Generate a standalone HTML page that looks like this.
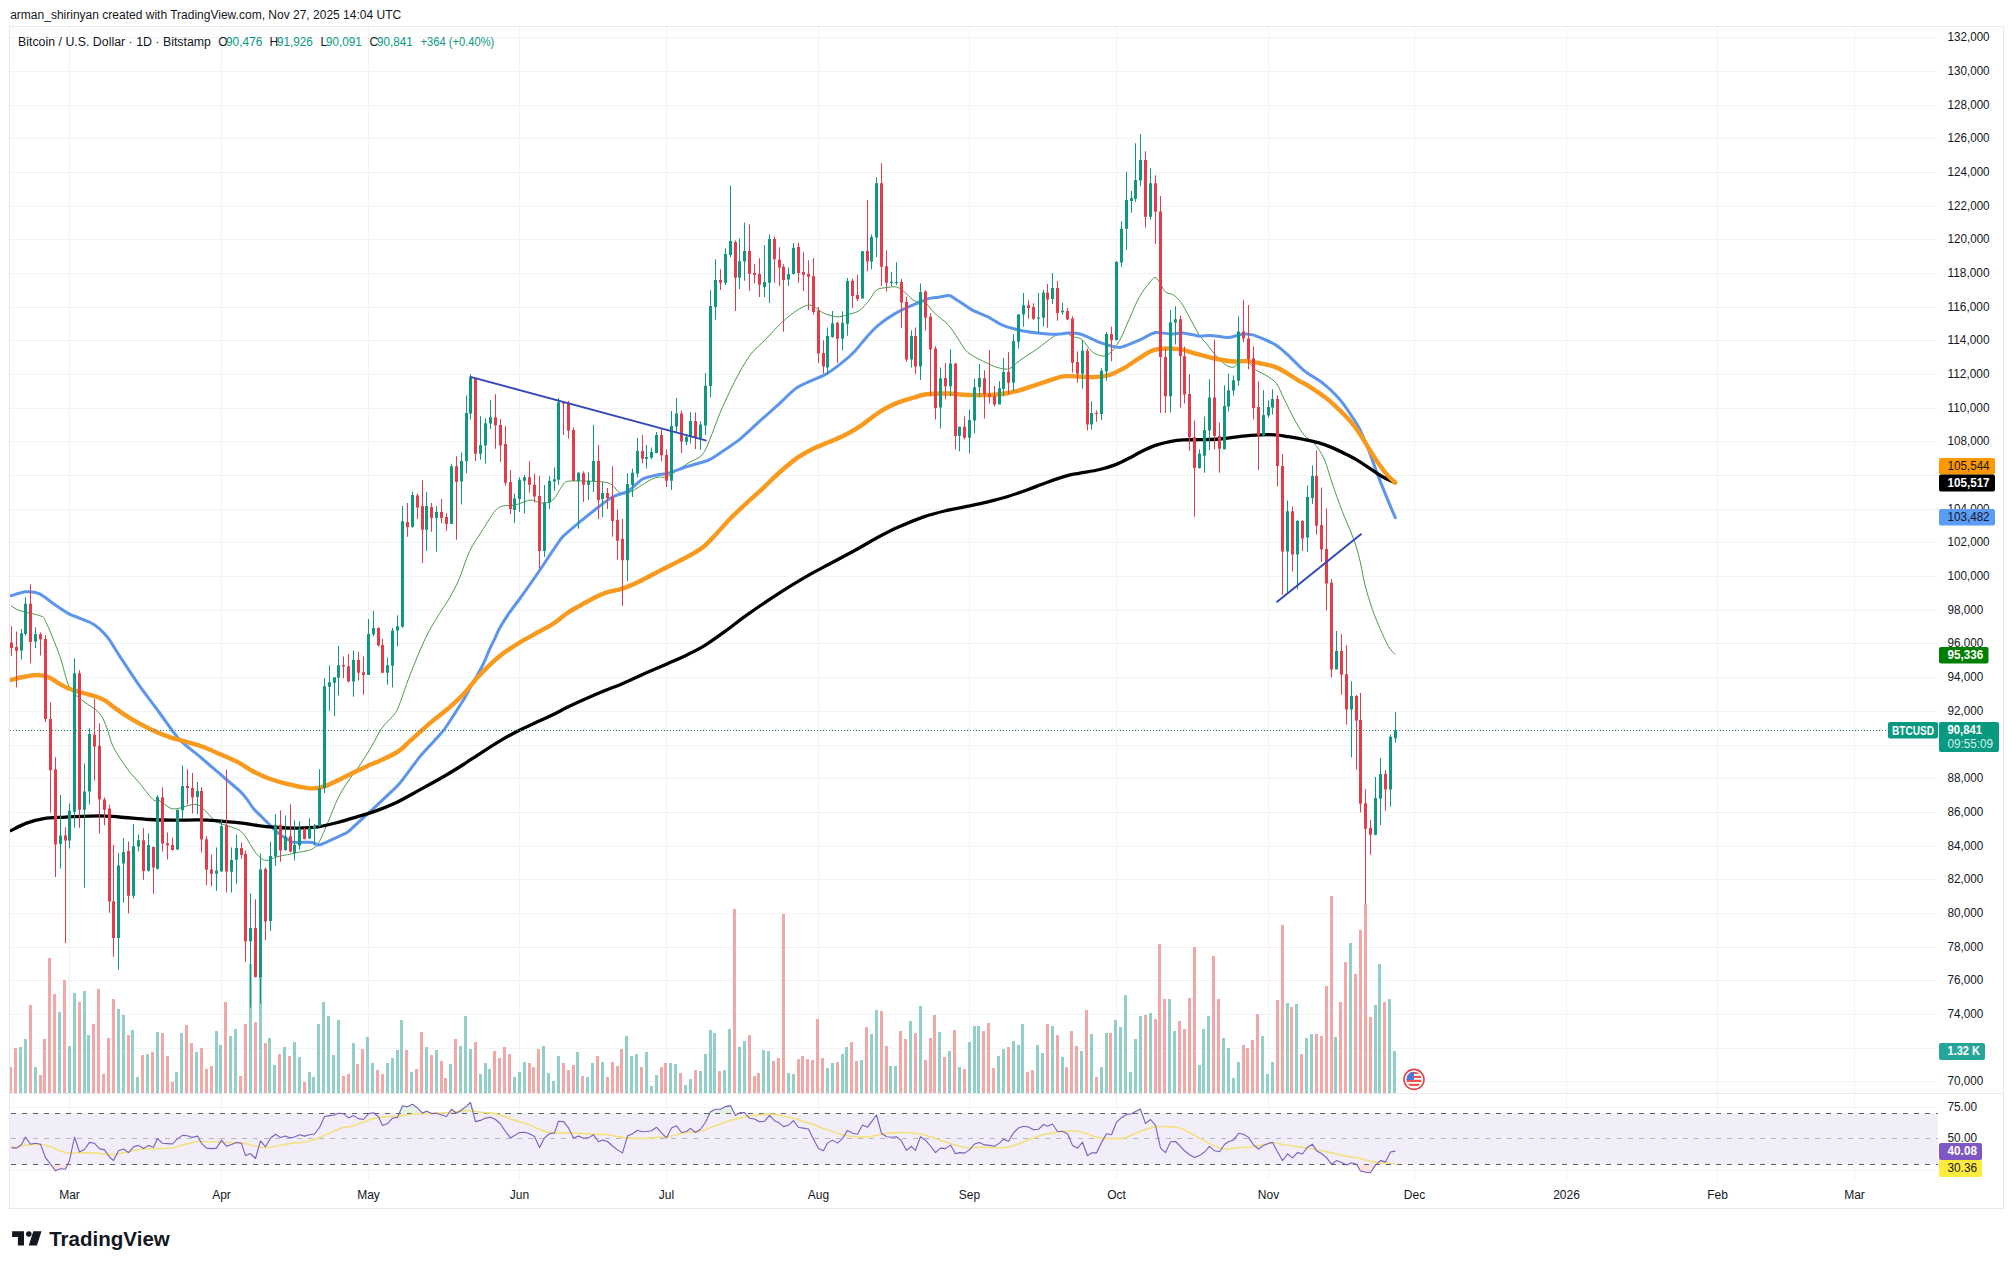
<!DOCTYPE html><html><head><meta charset="utf-8"><title>BTCUSD chart</title><style>html,body{margin:0;padding:0;background:#fff;width:2014px;height:1269px;overflow:hidden}svg{display:block}</style></head><body><svg width="2014" height="1269" viewBox="0 0 2014 1269" font-family='"Liberation Sans", sans-serif' font-size="12">
<rect width="2014" height="1269" fill="#ffffff"/>
<text x="10.2" y="18.6" fill="#131722" font-size="12.3" textLength="391" lengthAdjust="spacingAndGlyphs">arman_shirinyan created with TradingView.com, Nov 27, 2025 14:04 UTC</text>
<path d="M9.5 1081.5H1938 M9.5 1048.5H1938 M9.5 1014.5H1938 M9.5 980.5H1938 M9.5 947.5H1938 M9.5 913.5H1938 M9.5 879.5H1938 M9.5 846.5H1938 M9.5 812.5H1938 M9.5 778.5H1938 M9.5 745.5H1938 M9.5 711.5H1938 M9.5 677.5H1938 M9.5 643.5H1938 M9.5 610.5H1938 M9.5 576.5H1938 M9.5 542.5H1938 M9.5 509.5H1938 M9.5 475.5H1938 M9.5 441.5H1938 M9.5 408.5H1938 M9.5 374.5H1938 M9.5 340.5H1938 M9.5 307.5H1938 M9.5 273.5H1938 M9.5 239.5H1938 M9.5 206.5H1938 M9.5 172.5H1938 M9.5 138.5H1938 M9.5 105.5H1938 M9.5 71.5H1938 M9.5 37.5H1938 M9.5 1107.5H1938 M9.5 1170.5H1938 M69.5 26.5V1179.5 M221.5 26.5V1179.5 M368.5 26.5V1179.5 M519.5 26.5V1179.5 M666.5 26.5V1179.5 M818.5 26.5V1179.5 M969.5 26.5V1179.5 M1116.5 26.5V1179.5 M1268.5 26.5V1179.5 M1414.5 26.5V1179.5 M1566.5 26.5V1179.5 M1717.5 26.5V1179.5 M1854.5 26.5V1179.5" stroke="#f2f3f5" stroke-width="1" fill="none" shape-rendering="crispEdges"/>
<rect x="9.5" y="1113.5" width="1928.5" height="51" fill="#f2eef9"/>
<path d="M19 1047.2h3V1093h-3zM24 1039.1h3V1093h-3zM34 1067.2h3V1093h-3zM58 1012.1h3V1093h-3zM68 1046.0h3V1093h-3zM73 993.0h3V1093h-3zM83 991.1h3V1093h-3zM87 1035.1h3V1093h-3zM117 1009.2h3V1093h-3zM122 1015.1h3V1093h-3zM131 1030.0h3V1093h-3zM136 1077.3h3V1093h-3zM146 1054.0h3V1093h-3zM156 1032.1h3V1093h-3zM175 1072.1h3V1093h-3zM180 1033.2h3V1093h-3zM195 1052.1h3V1093h-3zM215 1031.1h3V1093h-3zM219 1045.1h3V1093h-3zM229 1036.1h3V1093h-3zM234 1029.2h3V1093h-3zM249 964.3h3V1093h-3zM259 975.6h3V1093h-3zM268 1038.2h3V1093h-3zM273 1065.1h3V1093h-3zM283 1047.2h3V1093h-3zM293 1042.2h3V1093h-3zM298 1057.1h3V1093h-3zM308 1072.1h3V1093h-3zM312 1077.3h3V1093h-3zM317 1024.1h3V1093h-3zM322 1002.0h3V1093h-3zM327 1016.1h3V1093h-3zM332 1055.1h3V1093h-3zM337 1020.1h3V1093h-3zM352 1043.1h3V1093h-3zM366 1037.1h3V1093h-3zM371 1063.0h3V1093h-3zM386 1063.0h3V1093h-3zM391 1058.2h3V1093h-3zM396 1050.2h3V1093h-3zM400 1020.1h3V1093h-3zM410 1072.1h3V1093h-3zM425 1047.2h3V1093h-3zM435 1050.2h3V1093h-3zM449 1064.1h3V1093h-3zM459 1046.0h3V1093h-3zM464 1016.1h3V1093h-3zM469 1049.1h3V1093h-3zM479 1074.2h3V1093h-3zM484 1063.0h3V1093h-3zM488 1069.1h3V1093h-3zM513 1077.1h3V1093h-3zM518 1072.1h3V1093h-3zM523 1062.2h3V1093h-3zM542 1046.0h3V1093h-3zM547 1073.1h3V1093h-3zM552 1081.1h3V1093h-3zM557 1056.1h3V1093h-3zM576 1052.1h3V1093h-3zM586 1077.1h3V1093h-3zM591 1063.0h3V1093h-3zM601 1062.2h3V1093h-3zM625 1036.1h3V1093h-3zM630 1056.1h3V1093h-3zM635 1054.0h3V1093h-3zM645 1052.1h3V1093h-3zM650 1086.2h3V1093h-3zM655 1075.0h3V1093h-3zM669 1063.0h3V1093h-3zM674 1064.1h3V1093h-3zM684 1085.1h3V1093h-3zM689 1079.0h3V1093h-3zM699 1071.0h3V1093h-3zM704 1054.0h3V1093h-3zM709 1030.0h3V1093h-3zM713 1033.2h3V1093h-3zM723 1070.0h3V1093h-3zM728 1029.2h3V1093h-3zM738 1047.2h3V1093h-3zM743 1041.1h3V1093h-3zM762 1050.2h3V1093h-3zM767 1051.1h3V1093h-3zM787 1073.1h3V1093h-3zM792 1074.2h3V1093h-3zM826 1068.1h3V1093h-3zM831 1063.0h3V1093h-3zM841 1054.0h3V1093h-3zM845 1047.2h3V1093h-3zM860 1060.1h3V1093h-3zM870 1034.0h3V1093h-3zM875 1010.0h3V1093h-3zM889 1066.2h3V1093h-3zM894 1066.2h3V1093h-3zM909 1021.2h3V1093h-3zM919 1006.0h3V1093h-3zM938 1032.1h3V1093h-3zM948 1051.1h3V1093h-3zM958 1067.0h3V1093h-3zM968 1042.2h3V1093h-3zM973 1026.0h3V1093h-3zM977 1026.0h3V1093h-3zM997 1056.1h3V1093h-3zM1002 1049.1h3V1093h-3zM1012 1041.1h3V1093h-3zM1017 1045.1h3V1093h-3zM1021 1024.1h3V1093h-3zM1036 1044.9h3V1093h-3zM1041 1053.0h3V1093h-3zM1051 1026.2h3V1093h-3zM1061 1057.1h3V1093h-3zM1080 1051.0h3V1093h-3zM1090 1034.1h3V1093h-3zM1100 1066.9h3V1093h-3zM1105 1033.1h3V1093h-3zM1114 1020.1h3V1093h-3zM1119 1027.0h3V1093h-3zM1124 995.0h3V1093h-3zM1129 1072.0h3V1093h-3zM1134 1039.0h3V1093h-3zM1139 1016.0h3V1093h-3zM1149 1013.1h3V1093h-3zM1168 999.1h3V1093h-3zM1173 1031.1h3V1093h-3zM1198 1065.1h3V1093h-3zM1202 1029.0h3V1093h-3zM1207 1016.0h3V1093h-3zM1222 1038.0h3V1093h-3zM1227 1048.0h3V1093h-3zM1232 1077.9h3V1093h-3zM1237 1062.0h3V1093h-3zM1261 1035.9h3V1093h-3zM1266 1074.0h3V1093h-3zM1271 1062.0h3V1093h-3zM1286 1003.2h3V1093h-3zM1295 1004.2h3V1093h-3zM1305 1038.0h3V1093h-3zM1310 1034.1h3V1093h-3zM1334 1037.0h3V1093h-3zM1349 943.1h3V1093h-3zM1374 1005.0h3V1093h-3zM1378 964.1h3V1093h-3zM1388 999.1h3V1093h-3zM1393 1051.0h3V1093h-3z" fill="#93cec9" shape-rendering="crispEdges"/>
<path d="M9 1067.2h3V1093h-3zM14 1048.1h3V1093h-3zM29 1005.2h3V1093h-3zM39 1075.2h3V1093h-3zM43 1039.1h3V1093h-3zM48 957.9h3V1093h-3zM53 994.2h3V1093h-3zM63 980.0h3V1093h-3zM78 1002.0h3V1093h-3zM92 1024.1h3V1093h-3zM97 989.2h3V1093h-3zM102 1074.2h3V1093h-3zM107 1038.2h3V1093h-3zM112 999.1h3V1093h-3zM127 1035.1h3V1093h-3zM141 1055.1h3V1093h-3zM151 1052.1h3V1093h-3zM161 1033.2h3V1093h-3zM166 1056.1h3V1093h-3zM171 1082.2h3V1093h-3zM185 1025.2h3V1093h-3zM190 1043.1h3V1093h-3zM200 1048.1h3V1093h-3zM205 1069.1h3V1093h-3zM210 1066.2h3V1093h-3zM224 1002.0h3V1093h-3zM239 1076.1h3V1093h-3zM244 1024.1h3V1093h-3zM254 1022.0h3V1093h-3zM264 1043.1h3V1093h-3zM278 1054.0h3V1093h-3zM288 1056.1h3V1093h-3zM303 1082.2h3V1093h-3zM342 1076.1h3V1093h-3zM347 1074.2h3V1093h-3zM356 1064.1h3V1093h-3zM361 1049.1h3V1093h-3zM376 1070.0h3V1093h-3zM381 1074.2h3V1093h-3zM405 1050.2h3V1093h-3zM415 1069.1h3V1093h-3zM420 1032.1h3V1093h-3zM430 1055.1h3V1093h-3zM440 1061.1h3V1093h-3zM444 1078.2h3V1093h-3zM454 1039.1h3V1093h-3zM474 1042.2h3V1093h-3zM493 1051.1h3V1093h-3zM498 1058.2h3V1093h-3zM503 1047.2h3V1093h-3zM508 1054.0h3V1093h-3zM528 1063.0h3V1093h-3zM532 1067.0h3V1093h-3zM537 1049.1h3V1093h-3zM562 1063.0h3V1093h-3zM567 1070.0h3V1093h-3zM572 1065.1h3V1093h-3zM581 1076.1h3V1093h-3zM596 1056.1h3V1093h-3zM606 1077.1h3V1093h-3zM611 1062.2h3V1093h-3zM616 1066.2h3V1093h-3zM620 1049.1h3V1093h-3zM640 1067.0h3V1093h-3zM660 1067.0h3V1093h-3zM664 1063.0h3V1093h-3zM679 1073.1h3V1093h-3zM694 1070.0h3V1093h-3zM718 1071.0h3V1093h-3zM733 909.1h3V1093h-3zM748 1035.1h3V1093h-3zM753 1076.1h3V1093h-3zM757 1073.1h3V1093h-3zM772 1061.1h3V1093h-3zM777 1058.2h3V1093h-3zM782 914.0h3V1093h-3zM797 1059.0h3V1093h-3zM801 1056.1h3V1093h-3zM806 1059.0h3V1093h-3zM811 1060.1h3V1093h-3zM816 1019.1h3V1093h-3zM821 1058.2h3V1093h-3zM836 1062.2h3V1093h-3zM850 1042.2h3V1093h-3zM855 1061.1h3V1093h-3zM865 1027.1h3V1093h-3zM880 1011.1h3V1093h-3zM885 1046.0h3V1093h-3zM899 1031.1h3V1093h-3zM904 1039.1h3V1093h-3zM914 1033.2h3V1093h-3zM924 1060.1h3V1093h-3zM929 1038.2h3V1093h-3zM933 1015.1h3V1093h-3zM943 1057.1h3V1093h-3zM953 1030.0h3V1093h-3zM963 1069.1h3V1093h-3zM982 1031.1h3V1093h-3zM987 1023.1h3V1093h-3zM992 1068.1h3V1093h-3zM1007 1047.2h3V1093h-3zM1026 1072.0h3V1093h-3zM1031 1069.9h3V1093h-3zM1046 1024.1h3V1093h-3zM1056 1035.1h3V1093h-3zM1065 1066.9h3V1093h-3zM1070 1031.1h3V1093h-3zM1075 1046.1h3V1093h-3zM1085 1010.1h3V1093h-3zM1095 1076.9h3V1093h-3zM1109 1033.1h3V1093h-3zM1144 1015.2h3V1093h-3zM1154 1019.0h3V1093h-3zM1158 944.1h3V1093h-3zM1163 999.1h3V1093h-3zM1178 1021.1h3V1093h-3zM1183 1029.0h3V1093h-3zM1188 998.1h3V1093h-3zM1193 947.2h3V1093h-3zM1212 956.1h3V1093h-3zM1217 999.1h3V1093h-3zM1242 1045.1h3V1093h-3zM1246 1048.0h3V1093h-3zM1251 1040.0h3V1093h-3zM1256 1014.0h3V1093h-3zM1276 1000.1h3V1093h-3zM1281 925.0h3V1093h-3zM1290 1007.0h3V1093h-3zM1300 1054.1h3V1093h-3zM1315 1034.1h3V1093h-3zM1320 1035.9h3V1093h-3zM1325 986.1h3V1093h-3zM1330 896.1h3V1093h-3zM1339 1002.1h3V1093h-3zM1344 962.0h3V1093h-3zM1354 974.1h3V1093h-3zM1359 930.1h3V1093h-3zM1364 904.0h3V1093h-3zM1369 1017.0h3V1093h-3zM1383 1002.1h3V1093h-3z" fill="#f1a8a7" shape-rendering="crispEdges"/>
<clipPath id="pc"><rect x="10" y="27" width="1928" height="1066"/></clipPath><g clip-path="url(#pc)">
<path d="M10.9 605.7C12.4 606.5 15.1 609.0 19.9 610.7C24.7 612.4 35.4 613.9 39.7 615.7C44.0 617.5 42.4 615.0 45.7 621.6C49.0 628.2 55.6 644.5 59.6 655.4C63.6 666.3 65.5 679.6 69.5 687.2C73.5 694.8 78.4 696.8 83.4 701.1C88.4 705.4 95.3 708.4 99.3 713.0C103.3 717.6 104.9 723.3 107.2 728.9C109.5 734.5 109.9 740.2 113.2 746.8C116.5 753.4 122.8 762.6 127.1 768.6C131.4 774.6 134.7 777.4 139.0 782.5C143.3 787.6 149.6 796.4 152.9 799.4C156.2 802.4 155.9 798.9 158.9 800.4C161.9 801.9 167.5 807.0 170.8 808.3C174.1 809.6 174.4 808.9 178.7 808.3C183.0 807.6 191.9 803.7 196.6 804.4C201.2 805.1 203.3 809.4 206.6 812.3C209.9 815.2 212.9 819.5 216.5 821.8C220.1 824.1 224.1 824.3 228.4 826.1C232.7 827.9 237.7 828.0 242.3 832.6C246.9 837.2 252.2 848.9 256.2 853.5C260.2 858.1 262.5 859.9 266.1 860.4C269.7 860.9 272.7 857.8 278.0 856.5C283.3 855.2 291.6 854.2 297.9 852.5C304.2 850.8 310.8 851.5 315.8 846.5C320.8 841.5 324.1 830.7 327.7 822.8C331.3 814.9 334.3 805.8 337.6 799.0C340.9 792.2 344.3 787.1 347.6 782.0C350.9 776.9 353.5 774.5 357.5 768.6C361.5 762.7 367.4 753.4 371.4 746.8C375.4 740.2 378.2 733.5 381.3 728.9C384.4 724.3 387.1 722.7 389.9 719.2C392.7 715.8 394.6 715.5 397.9 708.2C401.2 700.9 405.2 687.2 409.8 675.5C414.4 663.8 420.7 648.1 425.7 637.7C430.7 627.4 435.6 620.0 439.6 613.4C443.6 606.8 446.2 603.8 449.5 598.0C452.8 592.2 456.1 586.2 459.4 578.5C462.7 570.8 465.4 560.0 469.4 551.7C473.4 543.4 479.0 535.6 483.3 528.8C487.6 522.0 491.9 514.7 495.2 510.9C498.5 507.1 499.8 507.0 503.1 506.0C506.4 505.0 510.5 506.0 515.1 505.0C519.7 504.0 526.6 500.3 530.9 500.0C535.2 499.7 537.2 503.0 540.9 503.0C544.5 503.0 549.2 503.0 552.8 500.0C556.4 497.0 560.1 488.2 562.7 485.1C565.4 482.0 564.4 481.9 568.7 481.2C573.0 480.5 582.5 481.0 588.5 481.2C594.5 481.4 600.4 481.5 604.4 482.1C608.4 482.8 609.8 483.3 612.4 485.1C615.0 486.9 617.3 491.9 620.3 493.1C623.3 494.3 625.7 494.1 630.3 492.1C634.9 490.1 643.5 483.7 648.1 481.2C652.7 478.7 654.8 478.0 658.1 477.2C661.4 476.4 663.0 478.5 668.0 476.2C673.0 473.9 682.2 466.8 687.9 463.3C693.5 459.8 698.2 459.0 701.9 455.0C705.6 451.0 706.9 446.2 709.9 439.3C712.9 432.4 716.5 421.4 719.8 413.5C723.1 405.6 726.4 398.5 729.7 391.6C733.0 384.7 736.1 378.4 739.7 372.0C743.4 365.6 747.3 358.6 751.6 353.2C755.9 347.8 760.9 344.2 765.5 339.5C770.1 334.8 774.8 329.2 779.4 324.8C784.0 320.4 789.0 316.0 793.3 312.9C797.6 309.8 801.9 307.1 805.2 305.9C808.5 304.7 810.1 304.7 813.1 305.9C816.1 307.1 819.1 311.1 823.1 312.9C827.1 314.7 833.0 316.5 837.0 316.8C841.0 317.1 843.3 315.8 846.9 314.8C850.5 313.8 855.2 313.2 858.8 310.9C862.4 308.6 865.7 304.4 868.7 300.9C871.7 297.4 873.7 292.2 876.7 290.0C879.7 287.8 883.3 288.1 886.6 287.6C889.9 287.1 893.6 286.3 896.6 287.0C899.6 287.7 901.5 289.7 904.5 292.0C907.5 294.3 911.1 299.2 914.4 300.9C917.7 302.5 921.1 299.9 924.4 301.9C927.7 303.9 930.3 309.1 934.3 312.9C938.3 316.7 944.2 320.5 948.2 324.8C952.2 329.1 954.8 334.1 958.1 338.7C961.4 343.3 963.0 348.5 968.0 352.6C973.0 356.7 982.6 360.9 987.9 363.5C993.2 366.1 996.1 367.3 999.8 368.1C1003.4 368.9 1006.5 369.8 1009.8 368.5C1013.1 367.2 1015.1 363.8 1019.7 360.5C1024.3 357.2 1032.0 352.6 1037.6 348.6C1043.2 344.6 1048.9 339.4 1053.5 336.7C1058.1 334.0 1062.3 332.7 1065.4 332.7C1068.5 332.7 1069.2 335.4 1071.9 336.5C1074.6 337.6 1078.5 337.0 1081.8 339.5C1085.1 342.0 1088.5 348.7 1091.8 351.4C1095.1 354.1 1098.7 355.6 1101.7 355.9C1104.7 356.2 1106.7 356.0 1109.7 353.4C1112.7 350.8 1116.3 346.3 1119.6 340.5C1122.9 334.7 1126.2 325.9 1129.5 318.6C1132.8 311.3 1136.1 302.8 1139.4 296.8C1142.7 290.9 1146.8 286.1 1149.4 282.9C1152.0 279.7 1153.2 277.7 1154.9 277.5C1156.6 277.3 1157.6 279.5 1159.3 281.9C1161.0 284.3 1163.0 289.6 1165.3 291.8C1167.6 294.0 1170.5 293.0 1173.2 294.8C1175.9 296.6 1178.6 299.1 1181.2 302.7C1183.8 306.3 1186.1 311.3 1189.1 316.6C1192.1 321.9 1196.0 329.9 1199.0 334.5C1202.0 339.1 1204.3 341.1 1207.0 344.4C1209.7 347.7 1211.9 351.1 1214.9 354.4C1217.9 357.7 1221.8 362.1 1224.8 364.3C1227.8 366.5 1230.5 367.5 1232.8 367.3C1235.1 367.1 1236.4 364.3 1238.7 363.3C1241.0 362.3 1243.9 360.2 1246.7 361.3C1249.5 362.4 1252.3 367.4 1255.6 369.8C1258.9 372.2 1263.1 373.4 1266.6 375.7C1270.1 378.0 1273.5 379.7 1276.5 383.7C1279.5 387.7 1281.4 393.7 1284.4 399.6C1287.4 405.6 1291.1 413.4 1294.4 419.4C1297.7 425.3 1301.0 431.3 1304.3 435.3C1307.6 439.3 1310.9 439.3 1314.2 443.3C1317.5 447.3 1321.2 452.6 1324.2 459.2C1327.2 465.8 1329.1 474.4 1332.1 483.0C1335.1 491.6 1339.0 503.0 1342.0 510.8C1345.0 518.6 1347.7 524.0 1350.0 529.9C1352.3 535.8 1354.2 540.5 1356.0 546.0C1357.8 551.5 1359.0 556.5 1360.5 563.0C1362.0 569.5 1363.0 577.2 1365.0 585.0C1367.0 592.8 1369.9 602.3 1372.5 609.7C1375.1 617.1 1377.8 623.4 1380.5 629.5C1383.2 635.6 1385.9 642.2 1388.4 646.4C1390.9 650.6 1394.2 653.3 1395.4 654.7" stroke="#4c9a4c" stroke-width="1" fill="none"/>
<path d="M10.9 595.8C12.6 595.3 22.4 592.0 25.8 591.8C29.2 591.6 36.5 592.4 39.7 593.8C42.9 595.2 50.1 601.4 53.6 603.8C57.1 606.2 65.3 612.0 69.5 614.1C73.7 616.2 85.9 620.3 89.4 622.0C92.9 623.7 97.0 626.6 99.3 628.6C101.6 630.6 106.9 636.4 109.2 639.5C111.5 642.6 115.7 650.1 119.2 655.4C122.7 660.7 134.4 678.6 139.0 685.2C143.6 691.8 154.3 705.7 158.9 712.0C163.5 718.3 174.1 733.7 178.7 738.8C183.3 743.9 194.0 751.8 198.6 755.7C203.2 759.6 215.2 769.8 218.5 772.6C221.8 775.4 224.3 777.9 226.8 780.0C229.3 782.1 237.4 788.7 239.7 790.9C242.0 793.1 245.1 796.8 246.7 798.9C248.3 801.0 251.9 806.7 253.6 808.8C255.3 810.9 259.7 814.8 261.6 816.7C263.5 818.6 268.1 823.3 269.5 824.7C270.9 826.1 272.3 827.6 273.5 828.7C274.7 829.8 277.9 832.9 279.4 834.1C280.9 835.3 284.9 837.7 286.4 838.6C287.9 839.5 290.8 841.7 292.4 842.1C294.0 842.5 298.0 842.4 300.3 842.4C302.6 842.4 310.1 842.1 312.2 842.4C314.3 842.7 316.9 844.9 318.2 845.0C319.5 845.1 321.2 844.3 323.1 843.6C325.0 842.9 331.3 839.9 334.1 838.6C336.9 837.3 344.6 834.1 347.0 832.6C349.4 831.1 352.4 828.0 354.9 825.7C357.4 823.4 365.4 815.9 368.8 812.8C372.2 809.7 380.1 802.4 383.7 798.9C387.3 795.4 395.8 787.9 400.0 783.0C404.2 778.1 415.1 762.5 419.7 756.9C424.3 751.3 436.5 738.7 439.6 735.1C442.8 731.5 444.8 728.7 446.7 726.0C448.6 723.3 453.5 715.4 455.6 712.2C457.7 709.0 462.6 701.4 464.5 698.3C466.4 695.2 469.8 688.5 471.5 685.4C473.2 682.3 477.9 674.3 479.4 671.5C480.9 668.7 483.2 664.1 484.4 661.6C485.6 659.1 488.2 652.3 489.4 649.7C490.6 647.1 493.1 642.1 494.3 639.7C495.5 637.3 497.6 631.9 499.3 628.8C501.0 625.7 506.9 616.3 509.2 612.9C511.5 609.5 515.7 604.3 519.2 599.5C522.7 594.7 535.0 577.2 538.9 571.5C542.8 565.8 550.0 554.7 552.8 550.7C555.6 546.7 559.7 540.0 562.7 536.8C565.7 533.6 574.4 526.4 578.6 522.9C582.8 519.4 594.6 510.0 598.5 507.0C602.4 504.0 608.9 498.9 612.4 497.0C615.9 495.1 624.8 493.2 628.3 491.1C631.8 489.0 638.7 481.1 642.2 479.2C645.7 477.3 655.1 475.5 658.1 474.8C661.1 474.1 664.5 474.2 668.0 473.2C671.5 472.2 683.3 467.8 687.9 466.3C692.5 464.8 704.0 462.0 707.7 460.5C711.4 459.0 716.1 455.7 719.8 453.2C723.5 450.7 735.1 443.0 739.7 439.3C744.3 435.6 754.9 425.6 759.5 421.4C764.1 417.2 775.0 407.6 779.4 403.6C783.8 399.6 791.9 390.9 797.2 387.5C802.5 384.1 820.0 377.4 825.1 374.6C830.2 371.8 837.4 366.3 840.9 363.6C844.4 360.9 851.6 354.6 854.8 351.2C858.0 347.8 865.9 337.8 868.7 334.7C871.5 331.6 875.7 327.2 878.7 324.8C881.7 322.4 891.1 316.0 894.6 313.9C898.1 311.8 905.7 308.2 908.5 306.9C911.3 305.6 916.1 303.9 918.4 302.9C920.7 301.9 925.8 299.3 928.3 298.6C930.8 297.9 937.8 297.4 940.2 297.0C942.6 296.6 947.3 295.3 949.2 295.6C951.1 295.9 953.4 297.7 956.1 299.4C958.8 301.1 968.3 307.9 972.0 309.9C975.7 311.9 984.4 315.1 987.9 316.8C991.4 318.5 998.3 323.3 1001.8 324.8C1005.3 326.3 1013.5 328.7 1017.7 329.7C1021.9 330.7 1033.7 332.6 1037.6 333.1C1041.5 333.6 1048.9 334.2 1051.5 334.3C1054.1 334.4 1058.1 334.2 1060.0 334.1C1061.9 334.0 1065.4 333.1 1067.9 333.1C1070.4 333.1 1078.1 333.4 1081.8 334.5C1085.5 335.6 1095.3 340.9 1099.7 342.4C1104.1 343.9 1115.0 347.7 1119.6 347.4C1124.2 347.1 1135.2 341.8 1139.4 340.1C1143.6 338.4 1151.6 333.2 1155.3 332.5C1159.0 331.8 1168.0 334.1 1171.2 334.1C1174.4 334.1 1179.9 332.7 1183.1 332.9C1186.3 333.1 1195.8 335.8 1199.0 336.1C1202.2 336.4 1207.4 335.3 1210.9 335.5C1214.4 335.7 1225.1 337.7 1228.8 337.5C1232.5 337.3 1239.9 334.4 1242.7 334.1C1245.5 333.8 1250.1 334.3 1252.7 334.9C1255.3 335.5 1261.8 338.3 1264.6 339.5C1267.4 340.7 1273.7 343.5 1276.5 345.4C1279.3 347.3 1285.2 352.4 1288.4 355.4C1291.6 358.4 1300.4 367.6 1304.3 370.8C1308.2 374.0 1318.3 379.6 1322.2 382.7C1326.1 385.8 1334.9 394.0 1338.1 397.6C1341.3 401.2 1347.5 409.8 1350.0 413.5C1352.5 417.2 1357.6 424.8 1359.9 429.4C1362.2 434.0 1367.7 447.9 1369.8 453.2C1371.9 458.5 1375.9 470.2 1377.8 475.1C1379.7 480.0 1383.7 489.9 1385.7 494.9C1387.7 499.9 1394.2 515.1 1395.3 517.8" stroke="#5c95ea" stroke-width="3" fill="none" stroke-linecap="round" stroke-linejoin="round"/>
<path d="M10.9 830.6C13.4 829.4 20.3 825.5 25.8 823.4C31.3 821.4 37.1 819.6 43.7 818.6C50.3 817.5 56.2 817.6 65.5 817.1C74.8 816.7 90.3 815.8 99.3 815.8C108.2 815.8 110.9 816.4 119.2 817.0C127.5 817.6 140.1 818.9 149.0 819.5C157.9 820.0 164.5 820.2 172.8 820.2C181.1 820.3 191.0 819.8 198.6 819.9C206.2 819.9 211.2 820.2 218.5 820.8C225.8 821.3 235.7 822.4 242.3 823.2C248.9 824.0 252.2 824.9 258.2 825.6C264.1 826.3 271.4 827.1 278.0 827.5C284.6 827.9 291.3 828.2 297.9 828.1C304.5 827.9 311.2 827.7 317.8 826.8C324.4 825.9 331.0 824.2 337.6 822.5C344.2 820.8 350.9 818.7 357.5 816.7C364.1 814.7 371.0 812.8 377.4 810.4C383.8 808.1 388.8 806.2 395.9 802.8C402.9 799.4 411.4 794.5 419.7 789.9C428.0 785.4 438.2 779.7 445.5 775.5C452.8 771.2 459.1 767.3 463.4 764.5C467.7 761.8 465.4 763.0 471.4 759.1C477.4 755.3 491.3 746.2 499.2 741.4C507.1 736.7 513.0 733.5 519.0 730.5C525.0 727.4 529.3 725.7 534.9 723.1C540.5 720.5 547.5 717.4 552.8 714.8C558.1 712.2 561.4 710.2 566.7 707.6C572.0 705.0 578.3 702.1 584.6 699.3C590.9 696.5 598.1 693.4 604.4 690.8C610.7 688.2 615.0 686.8 622.3 683.7C629.6 680.6 640.5 675.4 648.1 672.0C655.7 668.6 661.4 666.3 668.0 663.4C674.6 660.5 681.6 657.5 687.9 654.4C694.2 651.3 699.1 649.0 705.7 644.8C712.3 640.7 720.7 634.5 727.6 629.5C734.5 624.4 738.6 620.8 747.4 614.6C756.2 608.4 770.1 598.9 780.4 592.3C790.7 585.7 801.1 579.6 809.2 574.9C817.3 570.2 820.7 568.7 829.0 564.3C837.3 559.8 850.8 552.5 858.8 548.2C866.8 543.8 870.1 541.5 876.7 538.0C883.3 534.5 890.5 530.6 898.5 527.1C906.5 523.5 916.1 519.5 924.4 516.6C932.7 513.8 940.9 511.9 948.2 510.1C955.5 508.4 961.4 507.6 968.0 506.2C974.6 504.8 981.3 503.4 987.9 501.8C994.5 500.2 1001.2 498.5 1007.8 496.5C1014.4 494.5 1021.0 492.1 1027.6 489.7C1034.2 487.3 1040.9 484.5 1047.5 482.2C1054.1 479.9 1062.0 477.2 1067.4 475.7C1072.8 474.2 1074.5 474.2 1079.9 473.1C1085.3 472.1 1093.8 471.0 1099.7 469.5C1105.7 468.1 1110.6 466.5 1115.6 464.6C1120.6 462.6 1124.9 460.3 1129.5 458.0C1134.1 455.6 1139.1 452.6 1143.4 450.5C1147.7 448.4 1150.7 446.9 1155.3 445.4C1159.9 443.9 1166.6 442.3 1171.2 441.4C1175.8 440.5 1178.5 440.2 1183.1 439.9C1187.7 439.6 1193.0 439.8 1199.0 439.7C1205.0 439.5 1212.9 439.4 1218.9 439.0C1224.9 438.6 1229.5 437.8 1234.8 437.2C1240.1 436.6 1244.1 435.7 1250.7 435.3C1257.3 434.9 1268.2 434.6 1274.5 434.8C1280.8 435.0 1283.4 435.9 1288.4 436.7C1293.4 437.5 1299.3 438.5 1304.3 439.5C1309.3 440.5 1313.6 441.3 1318.2 442.7C1322.8 444.0 1327.5 445.7 1332.1 447.6C1336.7 449.5 1341.7 452.0 1346.0 454.2C1350.3 456.4 1353.9 458.2 1357.9 460.6C1361.9 462.9 1365.8 465.7 1369.8 468.3C1373.8 470.9 1377.5 473.8 1381.7 476.2C1385.9 478.6 1392.5 481.5 1394.7 482.6" stroke="#000000" stroke-width="3.3" fill="none" stroke-linecap="round" stroke-linejoin="round"/>
<path d="M10.9 679.8C13.4 679.2 21.0 677.3 25.8 676.5C30.6 675.7 35.7 674.8 39.7 675.1C43.7 675.3 46.4 676.3 49.7 677.8C53.0 679.3 56.3 682.1 59.6 683.9C62.9 685.7 65.5 687.3 69.5 688.8C73.5 690.3 79.1 691.8 83.4 693.0C87.7 694.3 91.7 695.1 95.3 696.3C98.9 697.6 102.3 699.0 105.3 700.7C108.3 702.5 109.2 703.9 113.2 706.7C117.2 709.5 123.1 714.0 129.1 717.6C135.1 721.3 142.4 725.3 149.0 728.5C155.6 731.8 162.2 734.5 168.8 736.9C175.4 739.2 183.1 740.8 188.7 742.5C194.3 744.1 197.6 744.9 202.6 746.8C207.6 748.6 212.6 750.9 218.5 753.6C224.4 756.2 232.4 759.4 238.3 762.4C244.2 765.5 249.2 769.4 254.2 772.0C259.2 774.6 262.5 776.2 268.1 778.2C273.7 780.2 281.4 782.6 288.0 784.2C294.6 785.9 302.8 787.5 307.8 788.1C312.8 788.7 314.5 788.5 317.8 788.0C321.1 787.6 322.7 787.2 327.7 785.1C332.7 783.0 341.0 778.8 347.6 775.6C354.2 772.4 362.0 768.4 367.4 765.9C372.8 763.4 374.9 763.1 380.0 760.7C385.1 758.4 392.9 755.0 397.9 751.7C402.9 748.5 404.5 745.9 409.8 741.2C415.1 736.5 423.4 728.8 429.7 723.4C436.0 718.1 441.9 713.8 447.5 709.0C453.1 704.1 458.1 699.9 463.4 694.3C468.7 688.7 473.3 681.7 479.3 675.5C485.3 669.2 492.6 661.9 499.2 656.5C505.8 651.1 513.0 646.7 519.0 642.9C525.0 639.2 529.3 637.1 534.9 633.9C540.5 630.8 547.5 627.4 552.8 624.0C558.1 620.6 562.4 616.4 566.7 613.5C571.0 610.5 573.3 609.3 578.6 606.3C583.9 603.3 593.5 598.1 598.5 595.7C603.5 593.3 604.4 593.0 608.4 591.9C612.4 590.7 617.3 590.4 622.3 588.7C627.3 587.1 632.2 585.0 638.2 582.1C644.2 579.3 651.5 575.1 658.1 571.6C664.7 568.2 672.6 564.3 677.9 561.6C683.2 558.9 685.7 557.9 690.0 555.4C694.3 552.8 699.6 550.0 703.9 546.5C708.2 543.0 711.5 539.0 715.8 534.5C720.1 529.9 724.7 524.2 729.7 519.2C734.7 514.1 740.3 509.0 745.6 504.0C750.9 499.1 755.9 494.9 761.5 489.7C767.1 484.4 773.4 477.8 779.4 472.5C785.4 467.2 791.6 461.9 797.2 457.9C802.8 453.9 807.8 451.3 813.1 448.7C818.4 446.0 823.7 444.4 829.0 442.1C834.3 439.9 839.6 437.7 844.9 435.0C850.2 432.3 855.5 429.3 860.8 425.8C866.1 422.3 872.1 417.1 876.7 414.0C881.3 410.8 884.6 408.8 888.6 406.8C892.6 404.7 896.2 403.1 900.5 401.6C904.8 400.0 910.1 398.7 914.4 397.5C918.7 396.2 920.7 395.0 926.3 394.3C931.9 393.7 941.2 393.4 948.2 393.5C955.2 393.6 959.7 394.8 968.0 395.0C976.3 395.2 989.5 395.2 997.8 394.5C1006.1 393.8 1011.1 392.5 1017.7 390.8C1024.3 389.1 1031.0 386.6 1037.6 384.4C1044.2 382.3 1052.4 379.2 1057.4 377.8C1062.4 376.4 1061.3 376.2 1067.4 376.1C1073.5 376.0 1086.8 377.3 1093.8 377.1C1100.8 376.9 1104.4 376.4 1109.7 374.8C1115.0 373.2 1120.5 370.1 1125.5 367.3C1130.5 364.5 1134.4 361.0 1139.4 358.1C1144.4 355.1 1148.7 351.1 1155.3 349.6C1161.9 348.1 1172.6 348.5 1179.2 349.1C1185.8 349.8 1189.8 352.1 1195.1 353.5C1200.4 354.9 1205.0 356.3 1210.9 357.6C1216.9 358.9 1224.8 360.7 1230.8 361.3C1236.8 361.9 1242.1 360.9 1246.7 361.1C1251.3 361.4 1254.0 362.0 1258.6 363.0C1263.2 363.9 1269.9 365.1 1274.5 366.7C1279.1 368.4 1282.4 370.5 1286.4 372.8C1290.4 375.0 1294.3 378.0 1298.3 380.4C1302.3 382.8 1305.7 384.1 1310.3 387.1C1314.9 390.0 1321.5 394.5 1326.1 398.0C1330.7 401.6 1334.1 404.9 1338.1 408.7C1342.1 412.5 1346.4 416.7 1350.0 420.9C1353.6 425.1 1356.9 429.5 1359.9 433.9C1362.9 438.2 1364.9 442.2 1367.9 447.0C1370.9 451.8 1374.5 457.9 1377.8 462.6C1381.1 467.4 1384.8 472.1 1387.7 475.4C1390.6 478.8 1394.0 481.4 1395.3 482.6" stroke="#f79a1e" stroke-width="4.4" fill="none" stroke-linecap="round" stroke-linejoin="round"/>
</g>
<path d="M21 629.0h1V659.4h-1zM25 597.2h1V635.5h-1zM35 627.2h1V647.9h-1zM60 794.9h1V868.4h-1zM69 803.4h1V848.5h-1zM74 658.4h1V827.7h-1zM84 763.6h1V887.8h-1zM89 728.3h1V804.4h-1zM118 853.1h1V969.7h-1zM123 838.2h1V902.7h-1zM133 824.1h1V898.8h-1zM138 834.6h1V851.5h-1zM148 833.2h1V871.4h-1zM157 794.9h1V869.8h-1zM177 809.4h1V849.9h-1zM182 765.6h1V818.7h-1zM197 782.1h1V814.2h-1zM216 847.5h1V890.8h-1zM221 819.7h1V871.8h-1zM231 847.5h1V892.6h-1zM236 834.6h1V884.3h-1zM250 893.2h1V1007.4h-1zM260 853.5h1V1003.4h-1zM270 841.6h1V930.9h-1zM275 814.2h1V865.8h-1zM285 815.4h1V851.1h-1zM294 820.3h1V860.4h-1zM299 821.3h1V849.5h-1zM309 818.3h1V839.2h-1zM314 824.1h1V845.5h-1zM319 769.2h1V826.7h-1zM324 678.2h1V792.9h-1zM329 665.3h1V711.0h-1zM334 677.2h1V716.0h-1zM338 646.1h1V695.5h-1zM353 650.4h1V696.7h-1zM368 619.1h1V674.9h-1zM373 611.1h1V636.5h-1zM387 657.4h1V684.8h-1zM392 628.0h1V687.6h-1zM397 615.3h1V646.5h-1zM402 506.0h1V627.8h-1zM412 491.7h1V527.8h-1zM426 492.1h1V551.1h-1zM436 506.0h1V551.7h-1zM451 463.7h1V523.9h-1zM461 452.4h1V504.6h-1zM466 395.4h1V473.2h-1zM470 374.3h1V419.6h-1zM480 416.2h1V459.7h-1zM485 418.2h1V463.7h-1zM490 400.1h1V429.1h-1zM514 493.5h1V522.9h-1zM519 477.2h1V511.9h-1zM524 474.8h1V513.3h-1zM544 485.1h1V557.0h-1zM549 476.2h1V509.0h-1zM554 467.2h1V490.7h-1zM558 398.1h1V484.7h-1zM578 472.2h1V528.8h-1zM588 472.2h1V500.0h-1zM593 425.1h1V492.1h-1zM602 482.1h1V516.9h-1zM627 473.2h1V580.9h-1zM632 468.8h1V497.0h-1zM637 438.1h1V477.2h-1zM646 445.0h1V468.6h-1zM651 447.4h1V459.3h-1zM656 431.9h1V453.3h-1zM671 411.0h1V490.1h-1zM676 398.1h1V431.9h-1zM686 434.5h1V445.0h-1zM690 412.0h1V443.4h-1zM700 421.2h1V449.8h-1zM705 372.9h1V435.1h-1zM710 290.0h1V397.3h-1zM715 259.2h1V319.8h-1zM725 248.3h1V285.1h-1zM730 185.4h1V257.2h-1zM739 238.4h1V289.0h-1zM744 222.5h1V280.7h-1zM764 245.3h1V297.0h-1zM769 234.4h1V302.9h-1zM788 267.6h1V286.0h-1zM793 242.9h1V274.7h-1zM827 327.4h1V374.4h-1zM832 310.9h1V337.7h-1zM842 311.3h1V350.6h-1zM847 278.1h1V335.7h-1zM862 250.9h1V298.6h-1zM871 234.4h1V269.2h-1zM876 177.2h1V256.9h-1zM891 272.1h1V286.0h-1zM896 262.2h1V285.1h-1zM911 330.3h1V367.5h-1zM920 283.5h1V380.0h-1zM940 367.4h1V428.4h-1zM950 349.2h1V396.3h-1zM959 426.4h1V451.6h-1zM969 409.5h1V453.6h-1zM974 378.7h1V433.3h-1zM979 364.1h1V397.3h-1zM999 381.3h1V404.5h-1zM1003 358.1h1V396.3h-1zM1013 334.3h1V391.3h-1zM1018 313.9h1V348.6h-1zM1023 293.0h1V326.8h-1zM1038 293.0h1V332.7h-1zM1043 290.0h1V326.4h-1zM1052 273.1h1V303.9h-1zM1062 302.7h1V314.6h-1zM1082 340.1h1V388.7h-1zM1091 401.2h1V429.8h-1zM1101 368.2h1V420.0h-1zM1106 332.1h1V380.7h-1zM1116 261.0h1V340.5h-1zM1121 221.3h1V267.0h-1zM1126 172.0h1V250.1h-1zM1131 191.1h1V212.8h-1zM1135 143.2h1V201.8h-1zM1140 134.3h1V185.9h-1zM1150 168.1h1V219.7h-1zM1170 309.7h1V412.5h-1zM1175 306.3h1V344.4h-1zM1199 449.2h1V468.7h-1zM1204 416.5h1V472.7h-1zM1209 379.3h1V450.2h-1zM1224 385.3h1V449.6h-1zM1228 373.4h1V411.5h-1zM1233 375.4h1V395.6h-1zM1238 316.2h1V385.7h-1zM1263 390.2h1V436.3h-1zM1268 400.6h1V417.5h-1zM1272 389.3h1V414.5h-1zM1287 500.5h1V592.8h-1zM1297 519.7h1V589.3h-1zM1307 485.4h1V552.1h-1zM1312 465.5h1V503.9h-1zM1336 631.1h1V669.6h-1zM1351 681.2h1V757.6h-1zM1375 777.1h1V835.2h-1zM1380 758.0h1V825.0h-1zM1390 734.4h1V806.7h-1zM1395 711.9h1V742.7h-1zM20 633.2h3V650.4h-3zM24 603.8h3V634.0h-3zM34 634.0h3V641.5h-3zM59 835.6h3V844.0h-3zM68 810.8h3V840.6h-3zM73 673.3h3V811.8h-3zM83 791.4h3V809.8h-3zM88 733.9h3V791.4h-3zM117 865.4h3V937.9h-3zM122 852.1h3V863.4h-3zM132 846.1h3V895.8h-3zM137 840.2h3V846.5h-3zM147 845.1h3V870.8h-3zM156 796.9h3V868.8h-3zM176 809.8h3V849.5h-3zM181 786.0h3V810.2h-3zM196 790.9h3V796.9h-3zM215 870.4h3V873.7h-3zM220 826.1h3V871.4h-3zM230 860.0h3V871.8h-3zM235 848.1h3V859.8h-3zM249 928.0h3V941.3h-3zM259 869.4h3V977.0h-3zM269 856.1h3V921.0h-3zM274 824.7h3V856.5h-3zM284 836.6h3V849.9h-3zM293 845.1h3V853.1h-3zM298 828.7h3V845.5h-3zM308 828.3h3V838.6h-3zM313 825.7h3V828.7h-3zM318 788.1h3V826.1h-3zM323 686.2h3V787.9h-3zM328 682.2h3V686.8h-3zM333 677.2h3V682.8h-3zM337 665.3h3V677.8h-3zM352 660.0h3V681.6h-3zM367 634.0h3V674.9h-3zM372 628.0h3V634.5h-3zM386 665.3h3V672.7h-3zM391 630.6h3V665.7h-3zM396 626.2h3V630.6h-3zM401 521.3h3V626.8h-3zM411 495.1h3V526.8h-3zM425 506.0h3V529.8h-3zM435 511.9h3V517.9h-3zM450 466.3h3V523.9h-3zM460 460.9h3V481.5h-3zM465 413.0h3V460.9h-3zM469 377.5h3V413.6h-3zM479 445.0h3V453.7h-3zM484 423.2h3V445.4h-3zM489 417.2h3V423.6h-3zM513 498.4h3V510.0h-3zM518 479.8h3V499.0h-3zM523 477.2h3V480.8h-3zM543 502.4h3V551.1h-3zM548 480.8h3V502.6h-3zM553 479.2h3V481.5h-3zM557 402.3h3V479.8h-3zM577 472.8h3V481.2h-3zM587 480.8h3V484.7h-3zM592 460.9h3V481.5h-3zM601 493.1h3V499.0h-3zM626 484.1h3V560.2h-3zM631 472.8h3V485.1h-3zM636 451.0h3V473.6h-3zM645 456.9h3V458.7h-3zM650 452.0h3V457.7h-3zM655 434.9h3V452.9h-3zM670 426.1h3V480.8h-3zM675 413.6h3V426.5h-3zM685 436.9h3V441.8h-3zM689 421.0h3V437.1h-3zM699 424.5h3V437.9h-3zM704 385.8h3V425.5h-3zM709 305.9h3V385.9h-3zM714 280.1h3V306.9h-3zM724 253.9h3V282.7h-3zM729 241.0h3V254.9h-3zM738 261.2h3V277.7h-3zM743 250.9h3V261.6h-3zM763 282.1h3V287.0h-3zM768 239.0h3V282.7h-3zM787 274.1h3V279.5h-3zM792 247.7h3V274.1h-3zM826 336.1h3V367.5h-3zM831 323.2h3V337.1h-3zM841 322.8h3V338.7h-3zM846 281.1h3V323.8h-3zM861 251.3h3V298.6h-3zM870 237.0h3V261.6h-3zM875 183.2h3V237.4h-3zM890 281.7h3V283.1h-3zM895 282.1h3V283.1h-3zM910 336.1h3V359.5h-3zM919 292.0h3V366.5h-3zM939 378.3h3V407.5h-3zM949 363.5h3V386.3h-3zM958 426.8h3V435.9h-3zM968 420.0h3V437.7h-3zM973 387.3h3V420.4h-3zM978 378.0h3V387.3h-3zM998 388.3h3V404.5h-3zM1002 372.0h3V388.7h-3zM1012 341.1h3V382.8h-3zM1017 314.4h3V341.7h-3zM1022 305.3h3V314.4h-3zM1037 317.4h3V318.8h-3zM1042 292.6h3V317.8h-3zM1051 288.0h3V299.0h-3zM1061 310.7h3V312.3h-3zM1081 350.8h3V373.8h-3zM1090 413.1h3V424.4h-3zM1100 370.8h3V413.9h-3zM1105 334.1h3V371.4h-3zM1115 262.0h3V340.1h-3zM1120 228.8h3V262.6h-3zM1125 200.0h3V228.8h-3zM1130 198.1h3V201.0h-3zM1134 180.0h3V198.8h-3zM1139 160.1h3V180.6h-3zM1149 183.2h3V216.7h-3zM1169 322.2h3V396.2h-3zM1174 319.2h3V322.6h-3zM1198 453.8h3V468.1h-3zM1203 430.0h3V455.8h-3zM1208 397.6h3V430.4h-3zM1223 406.1h3V449.2h-3zM1227 390.2h3V406.5h-3zM1232 380.3h3V390.6h-3zM1237 331.5h3V380.7h-3zM1262 415.1h3V435.3h-3zM1267 407.1h3V415.5h-3zM1271 399.0h3V407.5h-3zM1286 511.2h3V551.5h-3zM1296 521.1h3V554.5h-3zM1306 496.9h3V537.6h-3zM1311 476.0h3V497.9h-3zM1335 651.0h3V669.6h-3zM1350 696.0h3V709.6h-3zM1374 798.0h3V834.7h-3zM1379 773.9h3V798.5h-3zM1389 736.8h3V789.6h-3zM1394 730.2h3V738.2h-3z" fill="#10977f"/>
<path d="M11 626.2h1V655.8h-1zM16 631.6h1V687.6h-1zM30 584.3h1V663.3h-1zM40 632.6h1V655.4h-1zM45 635.1h1V721.9h-1zM50 702.5h1V812.8h-1zM55 757.3h1V876.9h-1zM65 827.3h1V942.9h-1zM79 670.3h1V827.7h-1zM94 698.7h1V780.5h-1zM99 723.3h1V833.6h-1zM104 797.4h1V825.3h-1zM109 804.8h1V912.7h-1zM113 845.1h1V956.8h-1zM128 841.6h1V913.5h-1zM143 828.3h1V879.7h-1zM153 846.5h1V893.8h-1zM162 787.3h1V851.5h-1zM167 832.6h1V859.4h-1zM172 837.6h1V850.5h-1zM187 769.2h1V804.8h-1zM192 773.0h1V813.4h-1zM201 787.3h1V852.5h-1zM206 836.2h1V885.3h-1zM211 854.5h1V886.3h-1zM226 769.6h1V892.6h-1zM241 842.6h1V858.8h-1zM245 850.5h1V961.7h-1zM255 899.2h1V977.6h-1zM265 867.4h1V939.9h-1zM280 810.2h1V861.8h-1zM290 804.2h1V852.5h-1zM304 827.7h1V839.6h-1zM343 656.4h1V678.2h-1zM348 654.0h1V682.2h-1zM358 652.0h1V680.6h-1zM363 656.4h1V694.7h-1zM378 627.2h1V646.5h-1zM382 639.1h1V673.3h-1zM407 503.0h1V536.8h-1zM417 493.5h1V518.9h-1zM422 480.2h1V563.0h-1zM431 503.0h1V531.8h-1zM441 499.0h1V522.9h-1zM446 512.9h1V530.8h-1zM456 456.3h1V539.7h-1zM475 377.5h1V460.9h-1zM495 394.2h1V448.8h-1zM500 419.2h1V461.9h-1zM505 426.1h1V485.5h-1zM510 470.2h1V513.9h-1zM529 461.3h1V492.7h-1zM534 473.8h1V502.6h-1zM539 475.8h1V568.5h-1zM563 402.3h1V435.1h-1zM568 401.1h1V438.5h-1zM573 427.5h1V481.2h-1zM583 471.2h1V502.0h-1zM598 445.0h1V518.9h-1zM607 488.1h1V509.0h-1zM612 466.3h1V536.8h-1zM617 509.4h1V559.6h-1zM622 518.9h1V605.9h-1zM642 435.1h1V463.3h-1zM661 427.9h1V461.3h-1zM666 449.4h1V487.1h-1zM681 410.6h1V452.9h-1zM695 412.6h1V449.0h-1zM720 269.2h1V290.0h-1zM735 240.4h1V310.9h-1zM749 224.5h1V291.0h-1zM754 264.2h1V283.5h-1zM759 258.2h1V297.0h-1zM774 236.4h1V282.7h-1zM779 247.3h1V286.0h-1zM783 264.2h1V331.7h-1zM798 242.4h1V282.7h-1zM803 252.3h1V291.0h-1zM808 260.2h1V309.9h-1zM813 258.2h1V314.8h-1zM818 306.9h1V362.9h-1zM823 340.3h1V373.4h-1zM837 321.8h1V362.9h-1zM852 278.7h1V307.9h-1zM857 274.7h1V300.9h-1zM867 200.0h1V271.2h-1zM881 163.3h1V286.0h-1zM886 250.3h1V291.4h-1zM901 279.1h1V327.8h-1zM906 296.6h1V362.1h-1zM915 327.4h1V374.0h-1zM925 290.0h1V330.7h-1zM930 313.3h1V396.3h-1zM935 346.2h1V419.4h-1zM945 362.9h1V399.3h-1zM955 362.9h1V449.6h-1zM964 416.5h1V439.3h-1zM984 370.2h1V418.5h-1zM989 350.3h1V403.6h-1zM994 386.1h1V406.5h-1zM1008 352.2h1V394.3h-1zM1028 300.3h1V318.8h-1zM1033 303.3h1V319.8h-1zM1047 284.1h1V327.8h-1zM1057 281.1h1V320.8h-1zM1067 307.7h1V320.2h-1zM1072 316.2h1V372.8h-1zM1077 351.4h1V382.7h-1zM1087 348.4h1V430.4h-1zM1096 410.5h1V421.8h-1zM1111 326.6h1V361.3h-1zM1145 151.2h1V227.8h-1zM1155 175.2h1V244.1h-1zM1160 196.1h1V413.1h-1zM1165 348.4h1V413.1h-1zM1180 315.6h1V407.5h-1zM1184 346.4h1V403.6h-1zM1189 374.2h1V450.8h-1zM1194 420.4h1V516.8h-1zM1214 339.5h1V449.2h-1zM1219 422.4h1V472.7h-1zM1243 300.3h1V342.4h-1zM1248 305.1h1V369.3h-1zM1253 346.4h1V419.4h-1zM1258 381.3h1V470.1h-1zM1277 395.2h1V486.6h-1zM1282 454.2h1V594.8h-1zM1292 506.4h1V571.4h-1zM1302 520.3h1V550.9h-1zM1316 450.2h1V534.6h-1zM1321 487.4h1V562.0h-1zM1326 508.4h1V610.6h-1zM1331 578.9h1V677.6h-1zM1341 634.1h1V694.7h-1zM1346 645.0h1V724.8h-1zM1356 695.1h1V769.5h-1zM1360 693.1h1V812.6h-1zM1365 789.1h1V903.9h-1zM1370 820.1h1V854.8h-1zM1385 770.1h1V810.8h-1zM10 642.5h3V647.9h-3zM15 647.1h3V650.8h-3zM29 603.8h3V641.9h-3zM39 634.2h3V639.5h-3zM44 638.9h3V719.0h-3zM49 719.0h3V770.2h-3zM54 769.2h3V844.5h-3zM64 835.6h3V840.6h-3zM78 673.3h3V809.8h-3zM93 734.8h3V746.4h-3zM98 745.8h3V799.4h-3zM103 799.4h3V809.8h-3zM108 808.4h3V901.5h-3zM112 901.2h3V937.9h-3zM127 851.1h3V895.8h-3zM142 840.2h3V871.0h-3zM152 847.1h3V867.4h-3zM161 797.3h3V843.6h-3zM166 843.2h3V845.5h-3zM171 845.1h3V849.9h-3zM186 786.0h3V787.9h-3zM191 787.9h3V797.5h-3zM200 790.9h3V839.6h-3zM205 839.2h3V869.8h-3zM210 869.4h3V873.7h-3zM225 825.3h3V871.4h-3zM240 848.1h3V854.9h-3zM244 853.9h3V941.3h-3zM254 928.0h3V977.0h-3zM264 869.0h3V921.6h-3zM279 824.7h3V850.5h-3zM289 836.2h3V851.5h-3zM303 828.7h3V839.0h-3zM342 664.9h3V666.5h-3zM347 666.3h3V681.6h-3zM357 660.0h3V672.7h-3zM362 672.3h3V674.9h-3zM377 628.0h3V645.5h-3zM381 645.1h3V672.7h-3zM406 521.9h3V527.2h-3zM416 495.5h3V507.4h-3zM421 506.0h3V529.8h-3zM430 507.0h3V517.9h-3zM440 511.9h3V517.9h-3zM445 516.9h3V523.9h-3zM455 466.3h3V482.1h-3zM474 377.9h3V453.7h-3zM494 417.2h3V425.5h-3zM499 424.9h3V445.4h-3zM504 444.0h3V482.7h-3zM509 482.1h3V509.0h-3zM528 477.2h3V484.7h-3zM533 484.7h3V496.6h-3zM538 496.0h3V551.1h-3zM562 402.5h3V403.7h-3zM567 402.7h3V430.5h-3zM572 429.9h3V480.8h-3zM582 473.2h3V484.7h-3zM597 460.9h3V500.0h-3zM606 493.1h3V498.0h-3zM611 497.0h3V520.9h-3zM616 519.9h3V540.7h-3zM621 538.7h3V560.2h-3zM641 451.0h3V458.7h-3zM660 434.9h3V455.3h-3zM665 454.9h3V480.8h-3zM680 413.6h3V441.4h-3zM694 421.0h3V437.9h-3zM719 280.1h3V282.7h-3zM734 242.0h3V277.7h-3zM748 250.9h3V273.7h-3zM753 273.1h3V274.7h-3zM758 274.1h3V284.7h-3zM773 239.0h3V259.2h-3zM778 259.8h3V267.6h-3zM782 266.8h3V280.1h-3zM797 246.9h3V273.1h-3zM802 272.1h3V274.7h-3zM807 274.1h3V276.7h-3zM812 276.1h3V311.9h-3zM817 310.5h3V353.6h-3zM822 353.0h3V366.5h-3zM836 322.8h3V338.7h-3zM851 280.7h3V296.0h-3zM856 295.0h3V299.0h-3zM866 250.9h3V261.6h-3zM880 183.2h3V266.8h-3zM885 266.2h3V282.7h-3zM900 282.1h3V302.5h-3zM905 301.9h3V359.5h-3zM914 336.1h3V366.5h-3zM924 291.4h3V317.8h-3zM929 316.8h3V349.6h-3zM934 348.6h3V408.1h-3zM944 378.0h3V386.3h-3zM954 363.5h3V435.9h-3zM963 426.8h3V437.7h-3zM983 378.3h3V394.0h-3zM988 394.2h3V396.8h-3zM993 396.2h3V404.5h-3zM1007 372.0h3V382.8h-3zM1027 305.3h3V307.9h-3zM1032 306.9h3V318.8h-3zM1046 292.6h3V299.4h-3zM1056 288.0h3V312.9h-3zM1066 311.1h3V319.6h-3zM1071 318.6h3V362.7h-3zM1076 361.9h3V373.8h-3zM1086 350.8h3V424.4h-3zM1095 413.1h3V414.1h-3zM1110 334.1h3V340.1h-3zM1144 160.1h3V216.7h-3zM1154 183.2h3V211.8h-3zM1159 211.4h3V356.9h-3zM1164 356.9h3V396.2h-3zM1179 319.2h3V356.3h-3zM1183 356.3h3V394.6h-3zM1188 394.0h3V437.3h-3zM1193 437.3h3V468.1h-3zM1213 397.6h3V435.9h-3zM1218 435.9h3V448.8h-3zM1242 331.5h3V338.5h-3zM1247 338.5h3V359.3h-3zM1252 358.3h3V408.1h-3zM1257 407.1h3V435.3h-3zM1276 399.0h3V466.1h-3zM1281 466.1h3V551.5h-3zM1291 511.2h3V554.5h-3zM1301 521.1h3V538.6h-3zM1315 476.0h3V525.7h-3zM1320 525.1h3V549.5h-3zM1325 548.9h3V583.4h-3zM1330 582.8h3V669.6h-3zM1340 651.0h3V674.8h-3zM1345 674.2h3V709.6h-3zM1355 696.0h3V720.5h-3zM1359 719.9h3V803.7h-3zM1364 803.2h3V828.8h-3zM1369 828.0h3V834.7h-3zM1384 773.9h3V789.6h-3z" fill="#e43b4b"/>
<path d="M470.4 376.9L705.7 440.4M1277.2 601.7L1360.9 534.2" stroke="#3349b8" stroke-width="2" fill="none" stroke-linecap="round"/>
<path d="M10 730.5H1888" stroke="#2d8575" stroke-width="1" stroke-dasharray="1 2" fill="none" shape-rendering="crispEdges"/>
<g transform="translate(1414 1079.4)"><circle r="10" fill="#fff" stroke="#e0474c" stroke-width="1.6"/><clipPath id="fc"><circle r="7.6"/></clipPath><g clip-path="url(#fc)"><rect x="-8" y="-8" width="16" height="16" fill="#fff"/><path d="M-8 -6.5h16M-8 -2.5h16M-8 1.5h16M-8 5.5h16" stroke="#ef5350" stroke-width="2.2"/><rect x="-8" y="-8" width="8" height="8.6" fill="#4a7bdc"/></g></g>
<path d="M9.5 1113.5H1938M9.5 1164.5H1938" stroke="#5d606b" stroke-width="1" stroke-dasharray="5 6" stroke-dashoffset="-1" fill="none" shape-rendering="crispEdges"/>
<path d="M9.5 1138.5H1938" stroke="#b4b5c2" stroke-width="1" stroke-dasharray="5 6" stroke-dashoffset="-1" fill="none" shape-rendering="crispEdges"/>
<clipPath id="ob"><rect x="9.5" y="1094" width="1928.5" height="19.5"/></clipPath><clipPath id="os"><rect x="9.5" y="1164.5" width="1928.5" height="15"/></clipPath>
<path d="M11.5 1147.6L16.5 1148.1L21.5 1144.5L25.5 1137.0L30.5 1144.2L35.5 1143.3L40.5 1144.2L45.5 1157.6L50.5 1164.2L55.5 1170.8L60.5 1168.7L65.5 1169.2L69.5 1160.6L74.5 1137.0L79.5 1152.0L84.5 1149.5L89.5 1142.4L94.5 1143.3L99.5 1148.6L104.5 1149.9L109.5 1157.0L113.5 1160.6L118.5 1150.8L123.5 1149.0L128.5 1152.6L133.5 1146.8L138.5 1145.4L143.5 1148.5L148.5 1145.4L153.5 1147.2L157.5 1138.6L162.5 1143.3L167.5 1143.6L172.5 1144.0L177.5 1138.6L182.5 1135.4L187.5 1135.8L192.5 1137.4L197.5 1136.1L201.5 1143.3L206.5 1148.1L211.5 1148.6L216.5 1148.1L221.5 1140.1L226.5 1146.3L231.5 1144.5L236.5 1142.4L241.5 1143.3L245.5 1155.6L250.5 1153.5L255.5 1158.5L260.5 1140.9L265.5 1146.8L270.5 1138.3L275.5 1134.2L280.5 1137.6L285.5 1135.9L290.5 1137.9L294.5 1137.0L299.5 1134.7L304.5 1136.1L309.5 1134.7L314.5 1134.0L319.5 1127.5L324.5 1116.5L329.5 1115.6L334.5 1115.0L338.5 1113.2L343.5 1113.6L348.5 1117.9L353.5 1115.6L358.5 1118.6L363.5 1119.5L368.5 1113.6L373.5 1112.7L378.5 1116.8L382.5 1125.4L387.5 1123.6L392.5 1118.2L397.5 1117.4L402.5 1105.7L407.5 1106.8L412.5 1104.3L417.5 1107.9L422.5 1113.2L426.5 1111.1L431.5 1113.6L436.5 1113.2L441.5 1115.0L446.5 1116.5L451.5 1109.3L456.5 1113.2L461.5 1110.0L466.5 1106.1L470.5 1102.5L475.5 1121.6L480.5 1120.4L485.5 1118.1L490.5 1117.2L495.5 1119.5L500.5 1124.0L505.5 1131.5L510.5 1137.9L514.5 1135.6L519.5 1132.5L524.5 1132.2L529.5 1133.8L534.5 1136.5L539.5 1147.6L544.5 1137.9L549.5 1133.8L554.5 1132.9L558.5 1121.3L563.5 1121.6L568.5 1127.9L573.5 1137.9L578.5 1136.1L583.5 1138.3L588.5 1137.9L593.5 1134.7L598.5 1141.8L602.5 1140.1L607.5 1141.5L612.5 1146.0L617.5 1149.9L622.5 1152.9L627.5 1136.1L632.5 1133.8L637.5 1130.2L642.5 1131.7L646.5 1131.5L651.5 1130.8L656.5 1127.2L661.5 1132.9L666.5 1137.9L671.5 1127.9L676.5 1125.8L681.5 1132.5L686.5 1131.5L690.5 1128.4L695.5 1132.5L700.5 1129.3L705.5 1122.2L710.5 1111.8L715.5 1109.3L720.5 1109.3L725.5 1106.6L730.5 1105.6L735.5 1115.6L739.5 1112.9L744.5 1112.5L749.5 1118.2L754.5 1119.0L759.5 1121.8L764.5 1121.3L769.5 1115.4L774.5 1120.7L779.5 1123.1L783.5 1126.6L788.5 1125.2L793.5 1120.7L798.5 1127.5L803.5 1128.1L808.5 1129.0L813.5 1139.2L818.5 1148.6L823.5 1150.8L827.5 1143.1L832.5 1140.1L837.5 1143.1L842.5 1138.6L847.5 1130.4L852.5 1133.3L857.5 1134.2L862.5 1124.9L867.5 1127.2L871.5 1121.8L876.5 1115.0L881.5 1133.3L886.5 1136.8L891.5 1137.2L896.5 1136.8L901.5 1140.9L906.5 1150.4L911.5 1146.3L915.5 1150.4L920.5 1136.8L925.5 1140.4L930.5 1146.0L935.5 1152.6L940.5 1148.1L945.5 1148.6L950.5 1145.1L955.5 1153.8L959.5 1152.6L964.5 1153.1L969.5 1149.9L974.5 1144.0L979.5 1142.4L984.5 1144.9L989.5 1145.4L994.5 1146.3L999.5 1143.1L1003.5 1139.2L1008.5 1141.3L1013.5 1132.9L1018.5 1127.9L1023.5 1126.3L1028.5 1127.0L1033.5 1129.7L1038.5 1129.3L1043.5 1124.5L1047.5 1126.3L1052.5 1124.0L1057.5 1131.5L1062.5 1131.5L1067.5 1133.8L1072.5 1145.4L1077.5 1148.1L1082.5 1142.2L1087.5 1155.8L1091.5 1152.9L1096.5 1152.9L1101.5 1142.4L1106.5 1133.8L1111.5 1134.7L1116.5 1122.2L1121.5 1117.7L1126.5 1114.5L1131.5 1113.8L1135.5 1111.5L1140.5 1109.1L1145.5 1123.6L1150.5 1119.5L1155.5 1125.4L1160.5 1148.1L1165.5 1152.6L1170.5 1141.8L1175.5 1141.5L1180.5 1146.3L1184.5 1150.8L1189.5 1154.7L1194.5 1157.6L1199.5 1155.6L1204.5 1152.0L1209.5 1146.3L1214.5 1150.8L1219.5 1151.7L1224.5 1144.5L1228.5 1141.8L1233.5 1140.1L1238.5 1133.3L1243.5 1134.3L1248.5 1137.4L1253.5 1144.9L1258.5 1149.0L1263.5 1145.4L1268.5 1143.6L1272.5 1142.2L1277.5 1151.7L1282.5 1160.6L1287.5 1154.0L1292.5 1157.9L1297.5 1152.6L1302.5 1154.0L1307.5 1147.2L1312.5 1144.2L1316.5 1150.8L1321.5 1153.5L1326.5 1157.6L1331.5 1164.2L1336.5 1160.6L1341.5 1162.4L1346.5 1165.1L1351.5 1162.8L1356.5 1164.2L1360.5 1171.0L1365.5 1172.2L1370.5 1172.8L1375.5 1165.1L1380.5 1160.6L1385.5 1161.9L1390.5 1152.0L1395.5 1151.1V1113.5H11.5z" fill="#4caf50" fill-opacity="0.16" clip-path="url(#ob)"/>
<path d="M11.5 1147.6L16.5 1148.1L21.5 1144.5L25.5 1137.0L30.5 1144.2L35.5 1143.3L40.5 1144.2L45.5 1157.6L50.5 1164.2L55.5 1170.8L60.5 1168.7L65.5 1169.2L69.5 1160.6L74.5 1137.0L79.5 1152.0L84.5 1149.5L89.5 1142.4L94.5 1143.3L99.5 1148.6L104.5 1149.9L109.5 1157.0L113.5 1160.6L118.5 1150.8L123.5 1149.0L128.5 1152.6L133.5 1146.8L138.5 1145.4L143.5 1148.5L148.5 1145.4L153.5 1147.2L157.5 1138.6L162.5 1143.3L167.5 1143.6L172.5 1144.0L177.5 1138.6L182.5 1135.4L187.5 1135.8L192.5 1137.4L197.5 1136.1L201.5 1143.3L206.5 1148.1L211.5 1148.6L216.5 1148.1L221.5 1140.1L226.5 1146.3L231.5 1144.5L236.5 1142.4L241.5 1143.3L245.5 1155.6L250.5 1153.5L255.5 1158.5L260.5 1140.9L265.5 1146.8L270.5 1138.3L275.5 1134.2L280.5 1137.6L285.5 1135.9L290.5 1137.9L294.5 1137.0L299.5 1134.7L304.5 1136.1L309.5 1134.7L314.5 1134.0L319.5 1127.5L324.5 1116.5L329.5 1115.6L334.5 1115.0L338.5 1113.2L343.5 1113.6L348.5 1117.9L353.5 1115.6L358.5 1118.6L363.5 1119.5L368.5 1113.6L373.5 1112.7L378.5 1116.8L382.5 1125.4L387.5 1123.6L392.5 1118.2L397.5 1117.4L402.5 1105.7L407.5 1106.8L412.5 1104.3L417.5 1107.9L422.5 1113.2L426.5 1111.1L431.5 1113.6L436.5 1113.2L441.5 1115.0L446.5 1116.5L451.5 1109.3L456.5 1113.2L461.5 1110.0L466.5 1106.1L470.5 1102.5L475.5 1121.6L480.5 1120.4L485.5 1118.1L490.5 1117.2L495.5 1119.5L500.5 1124.0L505.5 1131.5L510.5 1137.9L514.5 1135.6L519.5 1132.5L524.5 1132.2L529.5 1133.8L534.5 1136.5L539.5 1147.6L544.5 1137.9L549.5 1133.8L554.5 1132.9L558.5 1121.3L563.5 1121.6L568.5 1127.9L573.5 1137.9L578.5 1136.1L583.5 1138.3L588.5 1137.9L593.5 1134.7L598.5 1141.8L602.5 1140.1L607.5 1141.5L612.5 1146.0L617.5 1149.9L622.5 1152.9L627.5 1136.1L632.5 1133.8L637.5 1130.2L642.5 1131.7L646.5 1131.5L651.5 1130.8L656.5 1127.2L661.5 1132.9L666.5 1137.9L671.5 1127.9L676.5 1125.8L681.5 1132.5L686.5 1131.5L690.5 1128.4L695.5 1132.5L700.5 1129.3L705.5 1122.2L710.5 1111.8L715.5 1109.3L720.5 1109.3L725.5 1106.6L730.5 1105.6L735.5 1115.6L739.5 1112.9L744.5 1112.5L749.5 1118.2L754.5 1119.0L759.5 1121.8L764.5 1121.3L769.5 1115.4L774.5 1120.7L779.5 1123.1L783.5 1126.6L788.5 1125.2L793.5 1120.7L798.5 1127.5L803.5 1128.1L808.5 1129.0L813.5 1139.2L818.5 1148.6L823.5 1150.8L827.5 1143.1L832.5 1140.1L837.5 1143.1L842.5 1138.6L847.5 1130.4L852.5 1133.3L857.5 1134.2L862.5 1124.9L867.5 1127.2L871.5 1121.8L876.5 1115.0L881.5 1133.3L886.5 1136.8L891.5 1137.2L896.5 1136.8L901.5 1140.9L906.5 1150.4L911.5 1146.3L915.5 1150.4L920.5 1136.8L925.5 1140.4L930.5 1146.0L935.5 1152.6L940.5 1148.1L945.5 1148.6L950.5 1145.1L955.5 1153.8L959.5 1152.6L964.5 1153.1L969.5 1149.9L974.5 1144.0L979.5 1142.4L984.5 1144.9L989.5 1145.4L994.5 1146.3L999.5 1143.1L1003.5 1139.2L1008.5 1141.3L1013.5 1132.9L1018.5 1127.9L1023.5 1126.3L1028.5 1127.0L1033.5 1129.7L1038.5 1129.3L1043.5 1124.5L1047.5 1126.3L1052.5 1124.0L1057.5 1131.5L1062.5 1131.5L1067.5 1133.8L1072.5 1145.4L1077.5 1148.1L1082.5 1142.2L1087.5 1155.8L1091.5 1152.9L1096.5 1152.9L1101.5 1142.4L1106.5 1133.8L1111.5 1134.7L1116.5 1122.2L1121.5 1117.7L1126.5 1114.5L1131.5 1113.8L1135.5 1111.5L1140.5 1109.1L1145.5 1123.6L1150.5 1119.5L1155.5 1125.4L1160.5 1148.1L1165.5 1152.6L1170.5 1141.8L1175.5 1141.5L1180.5 1146.3L1184.5 1150.8L1189.5 1154.7L1194.5 1157.6L1199.5 1155.6L1204.5 1152.0L1209.5 1146.3L1214.5 1150.8L1219.5 1151.7L1224.5 1144.5L1228.5 1141.8L1233.5 1140.1L1238.5 1133.3L1243.5 1134.3L1248.5 1137.4L1253.5 1144.9L1258.5 1149.0L1263.5 1145.4L1268.5 1143.6L1272.5 1142.2L1277.5 1151.7L1282.5 1160.6L1287.5 1154.0L1292.5 1157.9L1297.5 1152.6L1302.5 1154.0L1307.5 1147.2L1312.5 1144.2L1316.5 1150.8L1321.5 1153.5L1326.5 1157.6L1331.5 1164.2L1336.5 1160.6L1341.5 1162.4L1346.5 1165.1L1351.5 1162.8L1356.5 1164.2L1360.5 1171.0L1365.5 1172.2L1370.5 1172.8L1375.5 1165.1L1380.5 1160.6L1385.5 1161.9L1390.5 1152.0L1395.5 1151.1V1164.5H11.5z" fill="#ff5252" fill-opacity="0.16" clip-path="url(#os)"/>
<path d="M10.9 1146.8C12.1 1146.9 15.4 1147.5 17.9 1147.2C20.3 1146.9 22.0 1145.6 25.7 1145.1C29.5 1144.6 36.3 1143.9 40.4 1144.2C44.5 1144.5 46.8 1145.7 50.1 1146.8C53.3 1147.9 56.9 1149.7 59.9 1150.8C62.9 1151.8 64.5 1152.7 67.9 1153.1C71.4 1153.5 76.1 1153.0 80.4 1152.9C84.8 1152.9 89.7 1152.7 94.2 1152.9C98.7 1153.2 103.6 1154.1 107.3 1154.4C110.9 1154.6 112.7 1154.8 116.2 1154.4C119.7 1153.9 123.9 1152.6 128.4 1151.7C132.8 1150.8 138.1 1149.5 143.0 1149.0C147.9 1148.5 152.9 1148.8 157.8 1148.6C162.8 1148.4 168.4 1148.3 172.5 1147.7C176.6 1147.1 179.1 1145.9 182.3 1145.1C185.6 1144.2 189.5 1143.4 192.2 1142.7C194.9 1142.1 196.0 1141.5 198.4 1141.3C200.9 1141.2 203.0 1141.7 206.8 1141.8C210.7 1142.0 216.6 1142.0 221.5 1142.2C226.3 1142.3 231.9 1142.5 236.0 1142.7C240.0 1143.0 242.7 1143.0 246.0 1143.6C249.3 1144.2 252.4 1145.6 255.6 1146.3C258.9 1147.0 262.2 1147.7 265.5 1147.7C268.7 1147.7 271.3 1147.0 275.3 1146.3C279.3 1145.6 284.8 1144.3 289.6 1143.6C294.4 1142.9 299.8 1142.9 303.9 1142.2C308.0 1141.5 311.1 1140.8 314.4 1139.7C317.8 1138.6 320.8 1137.0 324.1 1135.6C327.3 1134.2 330.7 1132.5 333.9 1131.1C337.2 1129.7 341.1 1127.9 343.8 1127.2C346.4 1126.4 347.2 1127.3 350.0 1126.6C352.8 1126.0 356.9 1124.4 360.7 1123.1C364.6 1121.7 368.6 1119.6 373.1 1118.6C377.6 1117.6 382.8 1117.3 387.7 1116.8C392.6 1116.3 397.5 1116.1 402.4 1115.6C407.3 1115.1 412.1 1114.2 417.0 1113.8C421.9 1113.4 426.8 1113.4 431.7 1113.2C436.6 1113.1 441.7 1113.1 446.5 1112.7C451.4 1112.3 456.8 1111.5 460.8 1111.1C464.9 1110.7 467.6 1110.3 470.8 1110.6C474.1 1110.8 476.4 1111.8 480.5 1112.3C484.6 1112.9 491.2 1112.9 495.3 1113.6C499.4 1114.3 501.1 1115.4 505.2 1116.8C509.2 1118.2 515.7 1120.5 519.8 1121.8C523.9 1123.2 526.4 1123.6 529.7 1124.9C532.9 1126.1 536.2 1128.1 539.5 1129.3C542.7 1130.6 545.1 1131.8 549.1 1132.4C553.2 1133.0 558.9 1132.8 563.8 1132.9C568.7 1133.1 573.6 1133.1 578.5 1133.3C583.3 1133.5 588.2 1133.9 593.1 1134.2C598.0 1134.4 603.9 1134.3 608.0 1134.7C612.0 1135.1 614.4 1135.9 617.6 1136.5C620.9 1137.0 624.2 1137.6 627.4 1137.9C630.7 1138.3 634.0 1138.6 637.3 1138.6C640.5 1138.7 643.7 1138.5 646.9 1138.3C650.2 1138.1 653.5 1137.6 656.8 1137.4C660.0 1137.1 663.3 1137.3 666.6 1136.8C669.9 1136.4 673.2 1135.4 676.4 1134.7C679.7 1134.0 682.8 1133.1 686.1 1132.5C689.3 1132.0 693.6 1131.7 695.9 1131.5C698.2 1131.3 697.5 1132.1 700.0 1131.5C702.5 1130.8 706.5 1129.1 710.7 1127.5C715.0 1126.0 720.5 1123.8 725.4 1122.2C730.3 1120.6 735.2 1119.2 740.0 1118.1C744.9 1116.9 749.8 1116.0 754.7 1115.4C759.6 1114.7 765.3 1114.2 769.4 1114.1C773.4 1114.1 775.1 1114.3 779.2 1115.0C783.3 1115.8 789.0 1117.3 793.9 1118.6C798.7 1119.9 803.6 1121.4 808.5 1123.1C813.4 1124.7 818.3 1126.7 823.2 1128.4C828.1 1130.2 832.9 1132.1 837.8 1133.4C842.7 1134.8 847.6 1135.9 852.5 1136.5C857.4 1137.0 862.3 1137.2 867.1 1136.8C872.0 1136.5 877.7 1135.0 881.8 1134.3C885.9 1133.7 887.6 1133.2 891.6 1132.9C895.7 1132.6 901.4 1132.3 906.3 1132.5C911.2 1132.8 916.9 1133.4 921.0 1134.2C925.0 1134.9 927.5 1135.8 930.8 1136.8C934.1 1137.9 937.4 1139.3 940.6 1140.4C943.9 1141.5 947.0 1142.6 950.3 1143.6C953.5 1144.6 956.8 1145.6 960.1 1146.3C963.4 1147.1 966.7 1147.9 969.9 1148.1C973.2 1148.2 975.7 1147.3 979.8 1147.2C983.8 1147.1 990.3 1147.5 994.4 1147.6C998.5 1147.6 1001.0 1147.9 1004.3 1147.6C1007.5 1147.2 1010.7 1146.4 1013.9 1145.4C1017.2 1144.5 1020.5 1143.1 1023.7 1141.8C1027.0 1140.6 1030.3 1139.1 1033.6 1137.9C1036.8 1136.7 1040.5 1135.4 1043.2 1134.7C1046.0 1133.9 1046.7 1134.0 1050.0 1133.4C1053.3 1132.8 1058.3 1131.5 1062.9 1131.1C1067.5 1130.7 1073.4 1130.7 1077.5 1131.1C1081.6 1131.6 1084.1 1132.8 1087.4 1133.8C1090.6 1134.8 1093.9 1136.6 1097.2 1137.4C1100.5 1138.2 1103.8 1138.4 1107.0 1138.6C1110.3 1138.8 1113.4 1138.8 1116.7 1138.6C1119.9 1138.4 1123.2 1138.3 1126.5 1137.4C1129.8 1136.4 1133.1 1134.2 1136.3 1132.9C1139.6 1131.6 1142.9 1130.4 1146.2 1129.3C1149.4 1128.3 1152.6 1127.1 1155.8 1126.6C1159.1 1126.2 1162.4 1126.6 1165.7 1126.6C1168.9 1126.7 1172.2 1126.4 1175.5 1127.0C1178.8 1127.6 1182.1 1128.8 1185.3 1130.2C1188.6 1131.7 1191.7 1133.8 1195.0 1135.6C1198.2 1137.4 1201.5 1139.2 1204.8 1140.9C1208.1 1142.7 1211.4 1144.6 1214.6 1146.0C1217.9 1147.3 1221.0 1148.6 1224.3 1149.0C1227.5 1149.3 1230.8 1148.4 1234.1 1148.1C1237.4 1147.8 1240.7 1147.4 1244.0 1147.2C1247.2 1147.0 1250.5 1147.1 1253.8 1146.7C1257.0 1146.2 1260.2 1145.2 1263.4 1144.5C1266.7 1143.9 1270.0 1142.7 1273.3 1142.7C1276.6 1142.7 1279.8 1144.0 1283.1 1144.5C1286.4 1145.1 1289.7 1145.5 1292.9 1146.0C1296.2 1146.4 1299.3 1146.7 1302.6 1147.2C1305.8 1147.7 1309.1 1148.4 1312.4 1149.0C1315.7 1149.6 1319.0 1150.1 1322.3 1150.8C1325.5 1151.4 1328.8 1152.2 1332.1 1152.9C1335.3 1153.7 1338.5 1154.6 1341.7 1155.2C1345.0 1155.9 1348.3 1156.4 1351.6 1157.0C1354.9 1157.6 1358.2 1158.1 1361.4 1158.8C1364.7 1159.6 1367.8 1160.8 1371.1 1161.5C1374.3 1162.2 1377.6 1162.6 1380.9 1162.9C1384.2 1163.2 1388.3 1163.2 1390.7 1163.3C1393.2 1163.4 1394.7 1163.6 1395.5 1163.7" stroke="#f3e07f" stroke-width="1.6" fill="none"/>
<path d="M11.5 1147.6L16.5 1148.1L21.5 1144.5L25.5 1137.0L30.5 1144.2L35.5 1143.3L40.5 1144.2L45.5 1157.6L50.5 1164.2L55.5 1170.8L60.5 1168.7L65.5 1169.2L69.5 1160.6L74.5 1137.0L79.5 1152.0L84.5 1149.5L89.5 1142.4L94.5 1143.3L99.5 1148.6L104.5 1149.9L109.5 1157.0L113.5 1160.6L118.5 1150.8L123.5 1149.0L128.5 1152.6L133.5 1146.8L138.5 1145.4L143.5 1148.5L148.5 1145.4L153.5 1147.2L157.5 1138.6L162.5 1143.3L167.5 1143.6L172.5 1144.0L177.5 1138.6L182.5 1135.4L187.5 1135.8L192.5 1137.4L197.5 1136.1L201.5 1143.3L206.5 1148.1L211.5 1148.6L216.5 1148.1L221.5 1140.1L226.5 1146.3L231.5 1144.5L236.5 1142.4L241.5 1143.3L245.5 1155.6L250.5 1153.5L255.5 1158.5L260.5 1140.9L265.5 1146.8L270.5 1138.3L275.5 1134.2L280.5 1137.6L285.5 1135.9L290.5 1137.9L294.5 1137.0L299.5 1134.7L304.5 1136.1L309.5 1134.7L314.5 1134.0L319.5 1127.5L324.5 1116.5L329.5 1115.6L334.5 1115.0L338.5 1113.2L343.5 1113.6L348.5 1117.9L353.5 1115.6L358.5 1118.6L363.5 1119.5L368.5 1113.6L373.5 1112.7L378.5 1116.8L382.5 1125.4L387.5 1123.6L392.5 1118.2L397.5 1117.4L402.5 1105.7L407.5 1106.8L412.5 1104.3L417.5 1107.9L422.5 1113.2L426.5 1111.1L431.5 1113.6L436.5 1113.2L441.5 1115.0L446.5 1116.5L451.5 1109.3L456.5 1113.2L461.5 1110.0L466.5 1106.1L470.5 1102.5L475.5 1121.6L480.5 1120.4L485.5 1118.1L490.5 1117.2L495.5 1119.5L500.5 1124.0L505.5 1131.5L510.5 1137.9L514.5 1135.6L519.5 1132.5L524.5 1132.2L529.5 1133.8L534.5 1136.5L539.5 1147.6L544.5 1137.9L549.5 1133.8L554.5 1132.9L558.5 1121.3L563.5 1121.6L568.5 1127.9L573.5 1137.9L578.5 1136.1L583.5 1138.3L588.5 1137.9L593.5 1134.7L598.5 1141.8L602.5 1140.1L607.5 1141.5L612.5 1146.0L617.5 1149.9L622.5 1152.9L627.5 1136.1L632.5 1133.8L637.5 1130.2L642.5 1131.7L646.5 1131.5L651.5 1130.8L656.5 1127.2L661.5 1132.9L666.5 1137.9L671.5 1127.9L676.5 1125.8L681.5 1132.5L686.5 1131.5L690.5 1128.4L695.5 1132.5L700.5 1129.3L705.5 1122.2L710.5 1111.8L715.5 1109.3L720.5 1109.3L725.5 1106.6L730.5 1105.6L735.5 1115.6L739.5 1112.9L744.5 1112.5L749.5 1118.2L754.5 1119.0L759.5 1121.8L764.5 1121.3L769.5 1115.4L774.5 1120.7L779.5 1123.1L783.5 1126.6L788.5 1125.2L793.5 1120.7L798.5 1127.5L803.5 1128.1L808.5 1129.0L813.5 1139.2L818.5 1148.6L823.5 1150.8L827.5 1143.1L832.5 1140.1L837.5 1143.1L842.5 1138.6L847.5 1130.4L852.5 1133.3L857.5 1134.2L862.5 1124.9L867.5 1127.2L871.5 1121.8L876.5 1115.0L881.5 1133.3L886.5 1136.8L891.5 1137.2L896.5 1136.8L901.5 1140.9L906.5 1150.4L911.5 1146.3L915.5 1150.4L920.5 1136.8L925.5 1140.4L930.5 1146.0L935.5 1152.6L940.5 1148.1L945.5 1148.6L950.5 1145.1L955.5 1153.8L959.5 1152.6L964.5 1153.1L969.5 1149.9L974.5 1144.0L979.5 1142.4L984.5 1144.9L989.5 1145.4L994.5 1146.3L999.5 1143.1L1003.5 1139.2L1008.5 1141.3L1013.5 1132.9L1018.5 1127.9L1023.5 1126.3L1028.5 1127.0L1033.5 1129.7L1038.5 1129.3L1043.5 1124.5L1047.5 1126.3L1052.5 1124.0L1057.5 1131.5L1062.5 1131.5L1067.5 1133.8L1072.5 1145.4L1077.5 1148.1L1082.5 1142.2L1087.5 1155.8L1091.5 1152.9L1096.5 1152.9L1101.5 1142.4L1106.5 1133.8L1111.5 1134.7L1116.5 1122.2L1121.5 1117.7L1126.5 1114.5L1131.5 1113.8L1135.5 1111.5L1140.5 1109.1L1145.5 1123.6L1150.5 1119.5L1155.5 1125.4L1160.5 1148.1L1165.5 1152.6L1170.5 1141.8L1175.5 1141.5L1180.5 1146.3L1184.5 1150.8L1189.5 1154.7L1194.5 1157.6L1199.5 1155.6L1204.5 1152.0L1209.5 1146.3L1214.5 1150.8L1219.5 1151.7L1224.5 1144.5L1228.5 1141.8L1233.5 1140.1L1238.5 1133.3L1243.5 1134.3L1248.5 1137.4L1253.5 1144.9L1258.5 1149.0L1263.5 1145.4L1268.5 1143.6L1272.5 1142.2L1277.5 1151.7L1282.5 1160.6L1287.5 1154.0L1292.5 1157.9L1297.5 1152.6L1302.5 1154.0L1307.5 1147.2L1312.5 1144.2L1316.5 1150.8L1321.5 1153.5L1326.5 1157.6L1331.5 1164.2L1336.5 1160.6L1341.5 1162.4L1346.5 1165.1L1351.5 1162.8L1356.5 1164.2L1360.5 1171.0L1365.5 1172.2L1370.5 1172.8L1375.5 1165.1L1380.5 1160.6L1385.5 1161.9L1390.5 1152.0L1395.5 1151.1" stroke="#7a5ec0" stroke-width="1.1" fill="none" stroke-linejoin="round"/>
<path d="M9.5 26.5H2003.5V1208.5H9.5zM9.5 1093.5H2003.5" stroke="#e7e9ec" stroke-width="1" fill="none" shape-rendering="crispEdges"/>
<g fill="#131722">
<text x="18" y="46" textLength="193" lengthAdjust="spacingAndGlyphs">Bitcoin / U.S. Dollar · 1D · Bitstamp</text>
<text x="218.3" y="46">O</text>
<text x="269.4" y="46">H</text>
<text x="320.5" y="46">L</text>
<text x="369.5" y="46">C</text>
</g><g fill="#089981">
<text x="226" y="46" textLength="36.4" lengthAdjust="spacingAndGlyphs">90,476</text>
<text x="277" y="46" textLength="35.8" lengthAdjust="spacingAndGlyphs">91,926</text>
<text x="326" y="46" textLength="35.8" lengthAdjust="spacingAndGlyphs">90,091</text>
<text x="377.1" y="46" textLength="35.5" lengthAdjust="spacingAndGlyphs">90,841</text>
<text x="420.6" y="46" textLength="73.7" lengthAdjust="spacingAndGlyphs">+364 (+0.40%)</text>
</g>
<g fill="#131722">
<text x="1947.5" y="1084.9" textLength="35.8" lengthAdjust="spacingAndGlyphs">70,000</text>
<text x="1947.5" y="1051.9" textLength="35.8" lengthAdjust="spacingAndGlyphs">72,000</text>
<text x="1947.5" y="1017.9" textLength="35.8" lengthAdjust="spacingAndGlyphs">74,000</text>
<text x="1947.5" y="983.9" textLength="35.8" lengthAdjust="spacingAndGlyphs">76,000</text>
<text x="1947.5" y="950.9" textLength="35.8" lengthAdjust="spacingAndGlyphs">78,000</text>
<text x="1947.5" y="916.9" textLength="35.8" lengthAdjust="spacingAndGlyphs">80,000</text>
<text x="1947.5" y="882.9" textLength="35.8" lengthAdjust="spacingAndGlyphs">82,000</text>
<text x="1947.5" y="849.9" textLength="35.8" lengthAdjust="spacingAndGlyphs">84,000</text>
<text x="1947.5" y="815.9" textLength="35.8" lengthAdjust="spacingAndGlyphs">86,000</text>
<text x="1947.5" y="781.9" textLength="35.8" lengthAdjust="spacingAndGlyphs">88,000</text>
<text x="1947.5" y="714.9" textLength="35.8" lengthAdjust="spacingAndGlyphs">92,000</text>
<text x="1947.5" y="680.9" textLength="35.8" lengthAdjust="spacingAndGlyphs">94,000</text>
<text x="1947.5" y="646.9" textLength="35.8" lengthAdjust="spacingAndGlyphs">96,000</text>
<text x="1947.5" y="613.9" textLength="35.8" lengthAdjust="spacingAndGlyphs">98,000</text>
<text x="1947.5" y="579.9" textLength="42.1" lengthAdjust="spacingAndGlyphs">100,000</text>
<text x="1947.5" y="545.9" textLength="42.1" lengthAdjust="spacingAndGlyphs">102,000</text>
<text x="1947.5" y="512.9" textLength="42.1" lengthAdjust="spacingAndGlyphs">104,000</text>
<text x="1947.5" y="444.9" textLength="42.1" lengthAdjust="spacingAndGlyphs">108,000</text>
<text x="1947.5" y="411.9" textLength="42.1" lengthAdjust="spacingAndGlyphs">110,000</text>
<text x="1947.5" y="377.9" textLength="42.1" lengthAdjust="spacingAndGlyphs">112,000</text>
<text x="1947.5" y="343.9" textLength="42.1" lengthAdjust="spacingAndGlyphs">114,000</text>
<text x="1947.5" y="310.9" textLength="42.1" lengthAdjust="spacingAndGlyphs">116,000</text>
<text x="1947.5" y="276.9" textLength="42.1" lengthAdjust="spacingAndGlyphs">118,000</text>
<text x="1947.5" y="242.9" textLength="42.1" lengthAdjust="spacingAndGlyphs">120,000</text>
<text x="1947.5" y="209.9" textLength="42.1" lengthAdjust="spacingAndGlyphs">122,000</text>
<text x="1947.5" y="175.9" textLength="42.1" lengthAdjust="spacingAndGlyphs">124,000</text>
<text x="1947.5" y="141.9" textLength="42.1" lengthAdjust="spacingAndGlyphs">126,000</text>
<text x="1947.5" y="108.9" textLength="42.1" lengthAdjust="spacingAndGlyphs">128,000</text>
<text x="1947.5" y="74.9" textLength="42.1" lengthAdjust="spacingAndGlyphs">130,000</text>
<text x="1947.5" y="40.9" textLength="42.1" lengthAdjust="spacingAndGlyphs">132,000</text>
<text x="1947.5" y="1110.9" textLength="29.5" lengthAdjust="spacingAndGlyphs">75.00</text>
<text x="1947.5" y="1141.9" textLength="29.5" lengthAdjust="spacingAndGlyphs">50.00</text>
</g>
<rect x="1939" y="458" width="56" height="16.5" rx="2" fill="#ff9800"/>
<text x="1947.5" y="469.8" fill="#131722" textLength="42.1" lengthAdjust="spacingAndGlyphs">105,544</text>
<rect x="1939" y="474.5" width="56" height="17" rx="2" fill="#000000"/>
<text x="1947.5" y="486.5" fill="#ffffff" font-weight="bold" textLength="42.1" lengthAdjust="spacingAndGlyphs">105,517</text>
<rect x="1939" y="509" width="56" height="16.5" rx="2" fill="#5b9cf6"/>
<text x="1947.5" y="520.8" fill="#131722" textLength="42.1" lengthAdjust="spacingAndGlyphs">103,482</text>
<rect x="1939" y="647" width="49.5" height="16.5" rx="2" fill="#008000"/>
<text x="1947.5" y="658.8" fill="#ffffff" font-weight="bold" textLength="35.8" lengthAdjust="spacingAndGlyphs">95,336</text>
<rect x="1939" y="1043" width="46" height="17" rx="2" fill="#26a69a"/>
<text x="1947.5" y="1055.0" fill="#ffffff" font-weight="bold" textLength="32.5" lengthAdjust="spacingAndGlyphs">1.32 K</text>
<rect x="1939" y="1143" width="43" height="17" rx="2" fill="#7e57c2"/>
<text x="1947.5" y="1155.0" fill="#ffffff" font-weight="bold" textLength="29.5" lengthAdjust="spacingAndGlyphs">40.08</text>
<rect x="1939" y="1160" width="43" height="17" rx="2" fill="#ffeb3b"/>
<text x="1947.5" y="1172.0" fill="#131722" textLength="29.5" lengthAdjust="spacingAndGlyphs">30.36</text>
<rect x="1888" y="722" width="50" height="16.5" rx="2" fill="#089981"/>
<text x="1892" y="734.6" fill="#fff" font-weight="bold" textLength="42" lengthAdjust="spacingAndGlyphs">BTCUSD</text>
<rect x="1939" y="722" width="60" height="30" rx="2" fill="#089981"/>
<text x="1947.5" y="734" fill="#fff" font-weight="bold" textLength="34.5" lengthAdjust="spacingAndGlyphs">90,841</text>
<text x="1947.5" y="747.8" fill="#d5f0ea" textLength="45.5" lengthAdjust="spacingAndGlyphs">09:55:09</text>
<g fill="#131722" text-anchor="middle">
<text x="69.5" y="1199.3">Mar</text>
<text x="221.5" y="1199.3">Apr</text>
<text x="368.5" y="1199.3">May</text>
<text x="519.5" y="1199.3">Jun</text>
<text x="666.5" y="1199.3">Jul</text>
<text x="818.5" y="1199.3">Aug</text>
<text x="969.5" y="1199.3">Sep</text>
<text x="1116.5" y="1199.3">Oct</text>
<text x="1268.5" y="1199.3">Nov</text>
<text x="1414.5" y="1199.3">Dec</text>
<text x="1566.5" y="1199.3">2026</text>
<text x="1717.5" y="1199.3">Feb</text>
<text x="1854.5" y="1199.3">Mar</text>
</g>
<g fill="#131722"><path d="M12.1 1231.2H24V1245.6H17.9V1237H12.1z"/><circle cx="28.8" cy="1233.9" r="2.75"/><path d="M33.3 1231.2H41.5L36.9 1245.6H28.8z"/>
<text x="49.2" y="1245.6" font-size="20.2" font-weight="bold" textLength="120.6" lengthAdjust="spacingAndGlyphs">TradingView</text></g>
</svg></body></html>
